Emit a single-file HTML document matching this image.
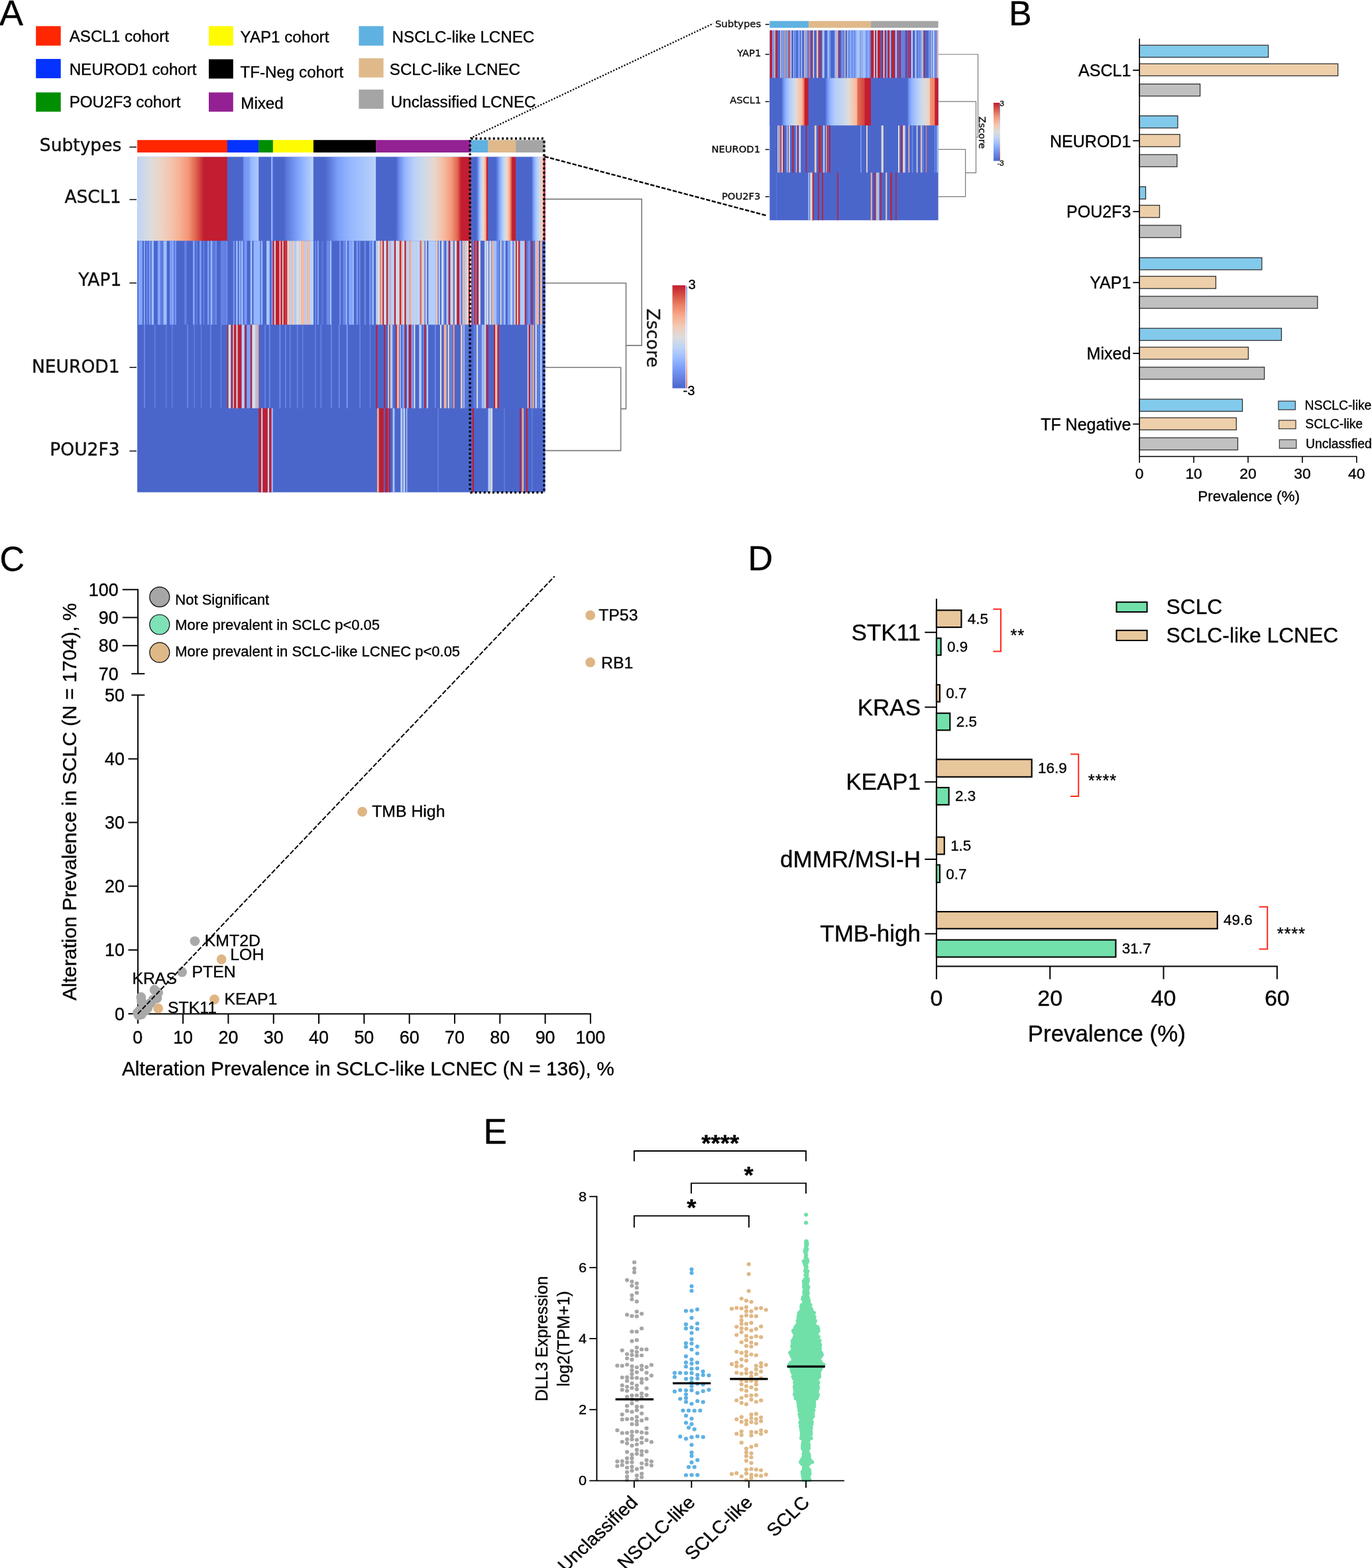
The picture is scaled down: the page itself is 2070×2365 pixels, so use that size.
<!DOCTYPE html>
<html lang="en"><head><meta charset="utf-8"><title>Figure</title>
<style>html,body{margin:0;padding:0;background:#fff}svg{display:block}text{white-space:pre;stroke:#000;stroke-width:0.35px}</style></head>
<body>
<svg width="2070" height="2365" viewBox="0 0 2070 2365">
<rect width="2070" height="2365" fill="#fff"/>
<g id="panelA">
<text x="-1" y="37.5" font-family="'Liberation Sans', sans-serif" font-size="54">A</text>
<rect x="54.2" y="39.4" width="37.5" height="29.4" fill="#ff2600"/>
<rect x="54.2" y="88.9" width="37.5" height="29.1" fill="#0433ff"/>
<rect x="54.2" y="139.4" width="37.5" height="29.1" fill="#008f00"/>
<rect x="315" y="39.4" width="36.8" height="29.4" fill="#fffb00"/>
<rect x="315" y="89.4" width="36.8" height="29.1" fill="#000000"/>
<rect x="315" y="139.4" width="36.8" height="29.1" fill="#942193"/>
<rect x="541.4" y="39.4" width="37.2" height="29.4" fill="#5fb1e1"/>
<rect x="541.4" y="87.9" width="37.2" height="28.9" fill="#e0b98b"/>
<rect x="541.4" y="135.1" width="37.2" height="28.9" fill="#a5a5a5"/>
<text x="104.7" y="63.3" font-family="'Liberation Sans', sans-serif" font-size="24.15">ASCL1 cohort</text>
<text x="104.7" y="112.5" font-family="'Liberation Sans', sans-serif" font-size="24.15">NEUROD1 cohort</text>
<text x="104.7" y="161.5" font-family="'Liberation Sans', sans-serif" font-size="24.15">POU2F3 cohort</text>
<text x="362.6" y="64" font-family="'Liberation Sans', sans-serif" font-size="24.15">YAP1 cohort</text>
<text x="362.6" y="116.8" font-family="'Liberation Sans', sans-serif" font-size="24.15">TF-Neg cohort</text>
<text x="363.3" y="163.7" font-family="'Liberation Sans', sans-serif" font-size="24.15">Mixed</text>
<text x="591.6" y="64" font-family="'Liberation Sans', sans-serif" font-size="24.15">NSCLC-like LCNEC</text>
<text x="587.8" y="112.5" font-family="'Liberation Sans', sans-serif" font-size="24.15">SCLC-like LCNEC</text>
<text x="589.8" y="161.5" font-family="'Liberation Sans', sans-serif" font-size="24.15">Unclassified LCNEC</text>
<rect x="207.1" y="211.2" width="136.1" height="18.8" fill="#ff2600"/>
<rect x="342.9" y="211.2" width="47.8" height="18.8" fill="#0433ff"/>
<rect x="390.4" y="211.2" width="21.7" height="18.8" fill="#008f00"/>
<rect x="411.8" y="211.2" width="61.4" height="18.8" fill="#fffb00"/>
<rect x="472.9" y="211.2" width="94.7" height="18.8" fill="#000000"/>
<rect x="567.3" y="211.2" width="143.2" height="18.8" fill="#942193"/>
<rect x="710.2" y="211.2" width="26.5" height="18.8" fill="#5fb1e1"/>
<rect x="736.4" y="211.2" width="42.1" height="18.8" fill="#e0b98b"/>
<rect x="778.2" y="211.2" width="44.3" height="18.8" fill="#a5a5a5"/>
<text x="183.3" y="228.3" font-family="'DejaVu Sans', sans-serif" font-size="26.5" text-anchor="end" fill="#111">Subtypes</text>
<text x="182.5" y="305.6" font-family="'DejaVu Sans', sans-serif" font-size="26.5" text-anchor="end" fill="#111">ASCL1</text>
<text x="183.3" y="431.3" font-family="'DejaVu Sans', sans-serif" font-size="26.5" text-anchor="end" fill="#111">YAP1</text>
<text x="180.5" y="561.5" font-family="'DejaVu Sans', sans-serif" font-size="26.5" text-anchor="end" fill="#111">NEUROD1</text>
<text x="180.5" y="687.3" font-family="'DejaVu Sans', sans-serif" font-size="26.5" text-anchor="end" fill="#111">POU2F3</text>
<line x1="195.4" y1="221.8" x2="206" y2="221.8" stroke="#1a1a1a" stroke-width="1.6"/>
<line x1="195.4" y1="301" x2="206" y2="301" stroke="#1a1a1a" stroke-width="1.6"/>
<line x1="195.4" y1="426.8" x2="206" y2="426.8" stroke="#1a1a1a" stroke-width="1.6"/>
<line x1="195.4" y1="554.2" x2="206" y2="554.2" stroke="#1a1a1a" stroke-width="1.6"/>
<line x1="195.4" y1="680.3" x2="206" y2="680.3" stroke="#1a1a1a" stroke-width="1.6"/>
<rect x="207.1" y="236.7" width="615.4" height="505.8" fill="#4b66cb"/>
<defs><linearGradient id="g1" gradientUnits="userSpaceOnUse" x1="207.1" y1="0" x2="342.9" y2="0"><stop offset="0" stop-color="#c0d4f5"/><stop offset="0.15" stop-color="#dddcdc"/><stop offset="0.28" stop-color="#edd2c3"/><stop offset="0.4" stop-color="#f5c0a7"/><stop offset="0.49" stop-color="#f7ac8e"/><stop offset="0.57" stop-color="#f39577"/><stop offset="0.65" stop-color="#df634e"/><stop offset="0.7" stop-color="#cf3f3d"/><stop offset="0.74" stop-color="#c21d30"/><stop offset="1" stop-color="#c21d30"/></linearGradient></defs>
<rect x="207.1" y="236.7" width="135.8" height="126.5" fill="url(#g1)"/>
<defs><linearGradient id="g2" gradientUnits="userSpaceOnUse" x1="342.9" y1="0" x2="390.4" y2="0"><stop offset="0" stop-color="#4b66cb"/><stop offset="0.49" stop-color="#4b66cb"/><stop offset="0.51" stop-color="#607ede"/><stop offset="0.53" stop-color="#7496f2"/><stop offset="0.7" stop-color="#7b9ff9"/><stop offset="0.74" stop-color="#94b6ff"/><stop offset="0.95" stop-color="#a9c6fd"/><stop offset="1" stop-color="#c0d4f5"/></linearGradient></defs>
<rect x="342.9" y="236.7" width="47.5" height="126.5" fill="url(#g2)"/>
<defs><linearGradient id="g3" gradientUnits="userSpaceOnUse" x1="390.4" y1="0" x2="411.8" y2="0"><stop offset="0" stop-color="#4b66cb"/><stop offset="0.87" stop-color="#4b66cb"/><stop offset="0.87" stop-color="#5a78d9"/><stop offset="0.88" stop-color="#6989e7"/><stop offset="0.88" stop-color="#789bf6"/><stop offset="0.88" stop-color="#8db0fe"/><stop offset="0.97" stop-color="#8db0fe"/><stop offset="0.99" stop-color="#7598f3"/><stop offset="1" stop-color="#6382e2"/></linearGradient></defs>
<rect x="390.4" y="236.7" width="21.4" height="126.5" fill="url(#g3)"/>
<defs><linearGradient id="g4" gradientUnits="userSpaceOnUse" x1="411.8" y1="0" x2="472.9" y2="0"><stop offset="0" stop-color="#4b66cb"/><stop offset="0.27" stop-color="#4b66cb"/><stop offset="0.33" stop-color="#5a77d9"/><stop offset="0.46" stop-color="#6a8be9"/><stop offset="0.63" stop-color="#82a6fb"/><stop offset="0.82" stop-color="#9ebeff"/><stop offset="0.99" stop-color="#bad0f8"/><stop offset="1" stop-color="#bad0f8"/></linearGradient></defs>
<rect x="411.8" y="236.7" width="61.1" height="126.5" fill="url(#g4)"/>
<defs><linearGradient id="g5" gradientUnits="userSpaceOnUse" x1="472.9" y1="0" x2="567.3" y2="0"><stop offset="0" stop-color="#4b66cb"/><stop offset="0.18" stop-color="#4b66cb"/><stop offset="0.27" stop-color="#5e7ddd"/><stop offset="0.33" stop-color="#6d8eeb"/><stop offset="0.39" stop-color="#7b9ff9"/><stop offset="0.6" stop-color="#97b8ff"/><stop offset="0.82" stop-color="#a9c6fd"/><stop offset="1" stop-color="#bad0f8"/></linearGradient></defs>
<rect x="472.9" y="236.7" width="94.4" height="126.5" fill="url(#g5)"/>
<defs><linearGradient id="g6" gradientUnits="userSpaceOnUse" x1="567.3" y1="0" x2="710.2" y2="0"><stop offset="0" stop-color="#4b66cb"/><stop offset="0.21" stop-color="#4b66cb"/><stop offset="0.23" stop-color="#5d7bdc"/><stop offset="0.25" stop-color="#6f90ed"/><stop offset="0.28" stop-color="#81a4fb"/><stop offset="0.31" stop-color="#97b8ff"/><stop offset="0.4" stop-color="#bad0f8"/><stop offset="0.51" stop-color="#cfdaea"/><stop offset="0.61" stop-color="#e7d7ce"/><stop offset="0.7" stop-color="#f5c0a7"/><stop offset="0.79" stop-color="#f59d7e"/><stop offset="0.82" stop-color="#ee8468"/><stop offset="0.86" stop-color="#e16751"/><stop offset="0.88" stop-color="#d0423e"/><stop offset="0.9" stop-color="#c21d30"/><stop offset="1" stop-color="#c21d30"/></linearGradient></defs>
<rect x="567.3" y="236.7" width="142.9" height="126.5" fill="url(#g6)"/>
<defs><linearGradient id="g7" gradientUnits="userSpaceOnUse" x1="710.2" y1="0" x2="736.4" y2="0"><stop offset="0" stop-color="#4b66cb"/><stop offset="0.34" stop-color="#4b66cb"/><stop offset="0.37" stop-color="#5a78d9"/><stop offset="0.41" stop-color="#6989e7"/><stop offset="0.45" stop-color="#789bf6"/><stop offset="0.49" stop-color="#8db0fe"/><stop offset="0.54" stop-color="#a5c3fe"/><stop offset="0.59" stop-color="#bbd1f8"/><stop offset="0.64" stop-color="#cfdaea"/><stop offset="0.72" stop-color="#e5d8d1"/><stop offset="0.79" stop-color="#f4c6af"/><stop offset="0.83" stop-color="#f7b396"/><stop offset="0.86" stop-color="#f59d7e"/><stop offset="0.89" stop-color="#ee8468"/><stop offset="0.9" stop-color="#e0654f"/><stop offset="0.92" stop-color="#cf403d"/><stop offset="0.93" stop-color="#c21d30"/><stop offset="1" stop-color="#c21d30"/></linearGradient></defs>
<rect x="710.2" y="236.7" width="26.2" height="126.5" fill="url(#g7)"/>
<defs><linearGradient id="g8" gradientUnits="userSpaceOnUse" x1="736.4" y1="0" x2="778.2" y2="0"><stop offset="0" stop-color="#4b66cb"/><stop offset="0.28" stop-color="#4b66cb"/><stop offset="0.32" stop-color="#5b79da"/><stop offset="0.36" stop-color="#6b8ce9"/><stop offset="0.4" stop-color="#7b9ff9"/><stop offset="0.46" stop-color="#96b7ff"/><stop offset="0.52" stop-color="#afcafc"/><stop offset="0.58" stop-color="#c7d7f0"/><stop offset="0.64" stop-color="#dddcdc"/><stop offset="0.69" stop-color="#edd2c3"/><stop offset="0.74" stop-color="#f5c0a7"/><stop offset="0.77" stop-color="#f7a98b"/><stop offset="0.8" stop-color="#f18d6f"/><stop offset="0.83" stop-color="#e36c55"/><stop offset="0.85" stop-color="#d1453f"/><stop offset="0.88" stop-color="#c21d30"/><stop offset="1" stop-color="#c21d30"/></linearGradient></defs>
<rect x="736.4" y="236.7" width="41.8" height="126.5" fill="url(#g8)"/>
<defs><linearGradient id="g9" gradientUnits="userSpaceOnUse" x1="778.2" y1="0" x2="822.5" y2="0"><stop offset="0" stop-color="#4b66cb"/><stop offset="0.54" stop-color="#4b66cb"/><stop offset="0.56" stop-color="#5b79da"/><stop offset="0.58" stop-color="#6b8ce9"/><stop offset="0.6" stop-color="#7b9ff9"/><stop offset="0.65" stop-color="#92b4fe"/><stop offset="0.7" stop-color="#a9c6fd"/><stop offset="0.75" stop-color="#bcd2f7"/><stop offset="0.81" stop-color="#cfdaea"/><stop offset="0.9" stop-color="#e9d5cb"/><stop offset="0.91" stop-color="#f3c8b2"/><stop offset="0.92" stop-color="#f7b599"/><stop offset="0.93" stop-color="#f59f80"/><stop offset="0.94" stop-color="#ee8468"/><stop offset="0.95" stop-color="#e0654f"/><stop offset="0.96" stop-color="#cf403d"/><stop offset="0.97" stop-color="#c21d30"/><stop offset="1" stop-color="#c21d30"/></linearGradient></defs>
<rect x="778.2" y="236.7" width="44.3" height="126.5" fill="url(#g9)"/>
<path d="M411.41 363.2h21.88v126.5h-21.88zM689.14 363.2h4.14v126.5h-4.14zM719.14 363.2h2.97v126.5h-2.97zM610.23 363.2h2.42v126.5h-2.42zM582.89 363.2h2.34v126.5h-2.34zM594.77 363.2h2.34v126.5h-2.34zM677.11 363.2h2.34v126.5h-2.34zM791.64 363.2h2.34v126.5h-2.34zM782.03 363.2h2.27v126.5h-2.27zM602.81 363.2h2.19v126.5h-2.19zM706.88 363.2h2.19v126.5h-2.19zM801.56 363.2h2.19v126.5h-2.19zM577.03 363.2h2.11v126.5h-2.11zM711.25 363.2h1.64v126.5h-1.64z" fill="#c21d30"/>
<path d="M646.17 363.2h11.25v126.5h-11.25zM443.98 363.2h2.89v126.5h-2.89zM788.75 363.2h2.89v126.5h-2.89zM458.98 363.2h2.11v126.5h-2.11z" fill="#b3cdfb"/>
<path d="M382.5 363.2h9.92v126.5h-9.92zM561.25 363.2h2.81v126.5h-2.81zM521.41 363.2h2.58v126.5h-2.58zM260 363.2h1.72v126.5h-1.72z" fill="#94b6ff"/>
<path d="M627.19 363.2h6.48v126.5h-6.48zM467.11 363.2h5.86v126.5h-5.86zM621.02 363.2h3.83v126.5h-3.83zM769.77 363.2h3.44v126.5h-3.44zM730.78 363.2h2.27v126.5h-2.27zM696.56 363.2h2.19v126.5h-2.19zM567.19 363.2h2.11v126.5h-2.11zM636.02 363.2h2.11v126.5h-2.11zM662.11 363.2h1.88v126.5h-1.88zM697.58 363.2h1.41v126.5h-1.41z" fill="#c0d4f5"/>
<path d="M208.98 363.2h5.86v126.5h-5.86zM526.09 363.2h5.31v126.5h-5.31zM237.89 363.2h4.3v126.5h-4.3zM291.02 363.2h2.73v126.5h-2.73z" fill="#82a6fb"/>
<path d="M724.92 363.2h5.86v126.5h-5.86zM817.73 363.2h4.77v126.5h-4.77zM762.73 363.2h3.12v126.5h-3.12zM670.94 363.2h2.58v126.5h-2.58zM695.23 363.2h2.34v126.5h-2.34zM644.14 363.2h2.03v126.5h-2.03zM663.98 363.2h2.03v126.5h-2.03zM813.05 363.2h2.03v126.5h-2.03zM799.77 363.2h1.8v126.5h-1.8zM736.95 363.2h1.25v126.5h-1.25z" fill="#4b66cb"/>
<path d="M589.3 363.2h5.47v126.5h-5.47z" fill="#bad0f8"/>
<path d="M246.48 363.2h5.08v126.5h-5.08zM228.75 363.2h3.28v126.5h-3.28zM759.92 363.2h2.81v126.5h-2.81zM364.06 363.2h2.58v126.5h-2.58zM497.66 363.2h2.5v126.5h-2.5zM531.41 363.2h2.5v126.5h-2.5zM744.84 363.2h2.27v126.5h-2.27zM394.22 363.2h1.88v126.5h-1.88zM784.3 363.2h1.88v126.5h-1.88z" fill="#9ebeff"/>
<path d="M492.5 363.2h4.92v126.5h-4.92z" fill="#6a8be9"/>
<path d="M402.03 363.2h4.84v126.5h-4.84zM377.81 363.2h2.5v126.5h-2.5zM356.25 363.2h2.19v126.5h-2.19zM733.05 363.2h1.88v126.5h-1.88z" fill="#a9c6fd"/>
<path d="M446.88 363.2h4.3v126.5h-4.3zM734.92 363.2h2.03v126.5h-2.03z" fill="#d7dce3"/>
<path d="M454.69 363.2h4.3v126.5h-4.3z" fill="#f7ba9f"/>
<path d="M368.44 363.2h4.06v126.5h-4.06zM263.91 363.2h2.11v126.5h-2.11z" fill="#7799f4"/>
<path d="M433.28 363.2h4.06v126.5h-4.06z" fill="#f2cbb7"/>
<path d="M569.3 363.2h4.06v126.5h-4.06zM722.11 363.2h2.81v126.5h-2.81zM709.06 363.2h2.19v126.5h-2.19zM413.75 363.2h2.11v126.5h-2.11zM642.11 363.2h2.03v126.5h-2.03zM421.56 363.2h1.72v126.5h-1.72zM425.86 363.2h1.72v126.5h-1.72zM463.2 363.2h1.56v126.5h-1.56z" fill="#dddcdc"/>
<path d="M748.91 363.2h3.98v126.5h-3.98zM773.2 363.2h2.5v126.5h-2.5zM324.61 363.2h2.34v126.5h-2.34zM341.09 363.2h2.11v126.5h-2.11zM541.72 363.2h1.8v126.5h-1.8zM669.14 363.2h1.8v126.5h-1.8zM220.94 363.2h1.72v126.5h-1.72zM475 363.2h1.72v126.5h-1.72zM675.7 363.2h1.41v126.5h-1.41z" fill="#6f90ed"/>
<path d="M484.53 363.2h3.91v126.5h-3.91zM803.75 363.2h3.83v126.5h-3.83zM683.67 363.2h2.27v126.5h-2.27zM207.11 363.2h1.88v126.5h-1.88zM752.89 363.2h1.72v126.5h-1.72z" fill="#5774d6"/>
<path d="M517.34 363.2h3.91v126.5h-3.91zM756.56 363.2h3.36v126.5h-3.36zM333.2 363.2h2.73v126.5h-2.73zM549.53 363.2h2.58v126.5h-2.58zM640.23 363.2h1.88v126.5h-1.88zM306.64 363.2h1.56v126.5h-1.56z" fill="#6888e6"/>
<path d="M597.11 363.2h3.91v126.5h-3.91zM666.02 363.2h3.12v126.5h-3.12zM575.23 363.2h1.8v126.5h-1.8z" fill="#cfdaea"/>
<path d="M765.86 363.2h3.91v126.5h-3.91zM256.09 363.2h3.67v126.5h-3.67zM301.17 363.2h2.73v126.5h-2.73zM312.89 363.2h2.73v126.5h-2.73zM224.61 363.2h2.34v126.5h-2.34zM478.67 363.2h2.34v126.5h-2.34zM336.72 363.2h2.19v126.5h-2.19zM409.38 363.2h2.03v126.5h-2.03zM740.86 363.2h1.56v126.5h-1.56z" fill="#7b9ff9"/>
<path d="M579.14 363.2h3.75v126.5h-3.75zM775.7 363.2h2.19v126.5h-2.19zM807.58 363.2h2.03v126.5h-2.03z" fill="#d5dbe5"/>
<path d="M336.33 363.2h3.67v126.5h-3.67zM278.12 363.2h3.52v126.5h-3.52zM712.89 363.2h2.19v126.5h-2.19zM295.7 363.2h1.95v126.5h-1.95zM717.19 363.2h1.95v126.5h-1.95zM262.11 363.2h1.56v126.5h-1.56zM335 363.2h1.56v126.5h-1.56zM695 363.2h1.56v126.5h-1.56zM392.66 363.2h1.33v126.5h-1.33zM227.34 363.2h1.17v126.5h-1.17zM362.97 363.2h0.94v126.5h-0.94z" fill="#6382e2"/>
<path d="M703.2 363.2h3.67v126.5h-3.67zM738.2 363.2h2.66v126.5h-2.66zM754.61 363.2h1.95v126.5h-1.95z" fill="#e2dad5"/>
<path d="M242.58 363.2h3.52v126.5h-3.52zM339.3 363.2h1.56v126.5h-1.56zM559.69 363.2h1.41v126.5h-1.41z" fill="#5e7ddd"/>
<path d="M320.7 363.2h3.52v126.5h-3.52zM793.98 363.2h2.66v126.5h-2.66z" fill="#5c7adb"/>
<path d="M451.17 363.2h3.52v126.5h-3.52z" fill="#e4d9d2"/>
<path d="M809.61 363.2h3.44v126.5h-3.44zM618.67 363.2h2.34v126.5h-2.34zM587.19 363.2h2.11v126.5h-2.11zM698.98 363.2h1.02v126.5h-1.02z" fill="#f7b396"/>
<path d="M440.62 363.2h3.36v126.5h-3.36zM657.42 363.2h2.73v126.5h-2.73zM461.09 363.2h2.11v126.5h-2.11z" fill="#f4c6af"/>
<path d="M606.88 363.2h3.36v126.5h-3.36zM685.94 363.2h3.2v126.5h-3.2zM679.45 363.2h2.42v126.5h-2.42zM612.66 363.2h2.03v126.5h-2.03z" fill="#d2dbe8"/>
<path d="M437.34 363.2h3.28v126.5h-3.28zM786.17 363.2h2.58v126.5h-2.58zM673.52 363.2h2.19v126.5h-2.19zM701.17 363.2h2.03v126.5h-2.03z" fill="#c6d6f1"/>
<path d="M796.64 363.2h3.12v126.5h-3.12zM537.5 363.2h2.66v126.5h-2.66zM557.03 363.2h2.5v126.5h-2.5zM351.8 363.2h2.34v126.5h-2.34zM512.03 363.2h2.19v126.5h-2.19zM660.16 363.2h1.95v126.5h-1.95z" fill="#7496f2"/>
<path d="M317.58 363.2h2.73v126.5h-2.73zM360.62 363.2h2.11v126.5h-2.11z" fill="#97b8ff"/>
<path d="M815.08 363.2h2.66v126.5h-2.66zM742.42 363.2h2.42v126.5h-2.42zM464.77 363.2h2.34v126.5h-2.34z" fill="#f5c0a7"/>
<path d="M698.75 363.2h2.42v126.5h-2.42z" fill="#f7ac8e"/>
<path d="M624.84 363.2h2.34v126.5h-2.34z" fill="#cad8ef"/>
<path d="M633.67 363.2h2.34v126.5h-2.34z" fill="#e36c55"/>
<path d="M614.69 363.2h2.11v126.5h-2.11zM638.12 363.2h2.11v126.5h-2.11zM779.92 363.2h2.11v126.5h-2.11zM681.88 363.2h1.8v126.5h-1.8z" fill="#efcfbf"/>
<path d="M715.08 363.2h2.11v126.5h-2.11z" fill="#c82d36"/>
<path d="M777.89 363.2h2.03v126.5h-2.03z" fill="#ca3238"/>
<path d="M429.92 363.2h1.95v126.5h-1.95z" fill="#d0423e"/>
<path d="M585.23 363.2h1.95v126.5h-1.95zM693.28 363.2h1.95v126.5h-1.95zM616.8 363.2h1.88v126.5h-1.88zM747.11 363.2h1.8v126.5h-1.8z" fill="#afcafc"/>
<path d="M604.92 363.2h1.95v126.5h-1.95z" fill="#f6a586"/>
<path d="M573.36 363.2h1.88v126.5h-1.88z" fill="#f18d6f"/>
<path d="M601.02 363.2h1.8v126.5h-1.8z" fill="#e9d5cb"/>
<path d="M217.03 363.2h1.72v126.5h-1.72z" fill="#8db0fe"/>
<path d="M701.25 489.7h5.47v126.1h-5.47z" fill="#5a77d9"/>
<path d="M358.93 489.7h5.36v126.1h-5.36zM617.03 489.7h3.28v126.1h-3.28zM353.21 489.7h3.04v126.1h-3.04zM734.45 489.7h2.34v126.1h-2.34zM750.47 489.7h2.19v126.1h-2.19zM369.64 489.7h2.14v126.1h-2.14zM640.31 489.7h2.11v126.1h-2.11zM797.97 489.7h2.11v126.1h-2.11zM567.19 489.7h2.03v126.1h-2.03zM579.14 489.7h1.95v126.1h-1.95zM745 489.7h1.95v126.1h-1.95zM378.21 489.7h1.79v126.1h-1.79zM349.11 489.7h1.79v126.1h-1.79zM610.78 489.7h1.72v126.1h-1.72zM597.11 489.7h1.56v126.1h-1.56zM342.86 489.7h1.43v126.1h-1.43z" fill="#c21d30"/>
<path d="M372.32 489.7h5.36v126.1h-5.36zM606.88 489.7h3.12v126.1h-3.12z" fill="#7b9ff9"/>
<path d="M380.36 489.7h5.36v126.1h-5.36zM344.64 489.7h3.57v126.1h-3.57zM807.5 489.7h2.34v126.1h-2.34zM589.06 489.7h2.19v126.1h-2.19zM663.91 489.7h2.19v126.1h-2.19zM675.62 489.7h2.19v126.1h-2.19zM795.78 489.7h1.56v126.1h-1.56z" fill="#dddcdc"/>
<path d="M721.56 489.7h4.69v126.1h-4.69zM810.23 489.7h4.3v126.1h-4.3zM714.53 489.7h3.12v126.1h-3.12z" fill="#5e7ddd"/>
<path d="M364.64 489.7h4.11v126.1h-4.11zM643.59 489.7h2.34v126.1h-2.34zM614.3 489.7h1.8v126.1h-1.8z" fill="#bad0f8"/>
<path d="M669.77 489.7h3.91v126.1h-3.91zM598.83 489.7h3.36v126.1h-3.36zM803.2 489.7h2.34v126.1h-2.34zM585 489.7h2.19v126.1h-2.19z" fill="#f7b396"/>
<path d="M726.64 489.7h3.91v126.1h-3.91zM698.91 489.7h1.95v126.1h-1.95zM620.94 489.7h1.56v126.1h-1.56zM591.64 489.7h1.17v126.1h-1.17z" fill="#9ebeff"/>
<path d="M632.27 489.7h3.67v126.1h-3.67z" fill="#b3cdfb"/>
<path d="M747.11 489.7h3.2v126.1h-3.2z" fill="#f5c0a7"/>
<path d="M679.14 489.7h2.73v126.1h-2.73z" fill="#6888e6"/>
<path d="M814.92 489.7h2.73v126.1h-2.73zM603.36 489.7h1.56v126.1h-1.56z" fill="#a9c6fd"/>
<path d="M387.86 489.7h2.5v126.1h-2.5z" fill="#f6a586"/>
<path d="M624.06 489.7h2.34v126.1h-2.34z" fill="#cfdaea"/>
<path d="M637.34 489.7h2.34v126.1h-2.34zM655.7 489.7h2.34v126.1h-2.34z" fill="#6382e2"/>
<path d="M683.44 489.7h2.34v126.1h-2.34z" fill="#f4987a"/>
<path d="M695.16 489.7h2.34v126.1h-2.34zM356.43 489.7h2.14v126.1h-2.14zM695.94 489.7h1.8v126.1h-1.8z" fill="#f4c6af"/>
<path d="M718.83 489.7h2.34v126.1h-2.34z" fill="#d5dbe5"/>
<path d="M447.7 489.7h2.26v126.1h-2.26z" fill="#5f7dde"/>
<path d="M385.71 489.7h2.14v126.1h-2.14z" fill="#afcafc"/>
<path d="M730.78 489.7h2.11v126.1h-2.11z" fill="#e2dad5"/>
<path d="M522.62 489.7h2.09v126.1h-2.09z" fill="#7698f3"/>
<path d="M398.94 489.7h2v126.1h-2z" fill="#6281e0"/>
<path d="M483.27 489.7h1.93v126.1h-1.93z" fill="#6281e1"/>
<path d="M217.05 489.7h1.92v126.1h-1.92zM542.4 489.7h1.53v126.1h-1.53zM303.06 489.7h1.03v126.1h-1.03z" fill="#6787e6"/>
<path d="M510.73 489.7h1.89v126.1h-1.89z" fill="#6a8ae8"/>
<path d="M421.47 489.7h1.84v126.1h-1.84z" fill="#6e8fec"/>
<path d="M455.75 489.7h1.76v126.1h-1.76z" fill="#617fdf"/>
<path d="M258.91 489.7h1.69v126.1h-1.69z" fill="#5f7ede"/>
<path d="M282.32 489.7h1.65v126.1h-1.65z" fill="#6a8be8"/>
<path d="M800.47 489.7h1.56v126.1h-1.56z" fill="#c0d4f5"/>
<path d="M292.49 489.7h1.53v126.1h-1.53z" fill="#607ede"/>
<path d="M317.14 489.7h1.52v126.1h-1.52z" fill="#6b8be9"/>
<path d="M332.66 489.7h1.46v126.1h-1.46z" fill="#6483e2"/>
<path d="M351.43 489.7h1.43v126.1h-1.43z" fill="#f2cbb7"/>
<path d="M406.08 489.7h1.41v126.1h-1.41zM499.26 489.7h1.26v126.1h-1.26z" fill="#7294f0"/>
<path d="M430.2 489.7h1.24v126.1h-1.24z" fill="#7496f2"/>
<path d="M233.1 489.7h1.18v126.1h-1.18z" fill="#6888e7"/>
<path d="M557.91 489.7h1.17v126.1h-1.17z" fill="#6483e3"/>
<path d="M475.35 489.7h1.17v126.1h-1.17z" fill="#6989e7"/>
<path d="M437.21 489.7h1.11v126.1h-1.11z" fill="#6f90ed"/>
<path d="M250.36 489.7h1.09v126.1h-1.09z" fill="#6484e3"/>
<path d="M695 489.7h0.78v126.1h-0.78z" fill="#e9d5cb"/>
<path d="M396.43 615.8h7.14v126.7h-7.14zM571.61 615.8h7.14v126.7h-7.14zM581.07 615.8h3.93v126.7h-3.93zM390.36 615.8h3.57v126.7h-3.57zM406.25 615.8h3.21v126.7h-3.21zM712.68 615.8h2.32v126.7h-2.32zM586.79 615.8h2.14v126.7h-2.14zM793.57 615.8h2.14v126.7h-2.14zM784.11 615.8h1.79v126.7h-1.79z" fill="#c21d30"/>
<path d="M736.43 615.8h3.93v126.7h-3.93zM604.29 615.8h3.04v126.7h-3.04z" fill="#b3cdfb"/>
<path d="M592.5 615.8h2.86v126.7h-2.86z" fill="#a9c6fd"/>
<path d="M568.93 615.8h2.68v126.7h-2.68z" fill="#f7ac8e"/>
<path d="M740.36 615.8h2.68v126.7h-2.68zM403.93 615.8h1.96v126.7h-1.96z" fill="#e2dad5"/>
<path d="M608.57 615.8h2.32v126.7h-2.32z" fill="#d7dce3"/>
<path d="M787.68 615.8h2.32v126.7h-2.32z" fill="#f7b396"/>
<path d="M409.64 615.8h2.14v126.7h-2.14zM612.68 615.8h1.79v126.7h-1.79z" fill="#9ebeff"/>
<path d="M394.29 615.8h1.79v126.7h-1.79z" fill="#dddcdc"/>
<path d="M802.5 615.8h1.07v126.7h-1.07zM760.54 615.8h1.07v126.7h-1.07z" fill="#6888e6"/>
<path d="M660.54 615.8h1.07v126.7h-1.07z" fill="#6f90ed"/>
<path d="M822.5 300.4H968.2V521.1H944.5 M822.5 427H944.5V616.6H936.6 M822.5 554.2H936.6V679.6H822.5" fill="none" stroke="#7a7a7a" stroke-width="1.6"/>
<defs><linearGradient id="cb1" x1="0" y1="1" x2="0" y2="0"><stop offset="0" stop-color="#4b66cb"/><stop offset="0.1" stop-color="#6382e2"/><stop offset="0.2" stop-color="#7b9ff9"/><stop offset="0.3" stop-color="#9ebeff"/><stop offset="0.4" stop-color="#c0d4f5"/><stop offset="0.5" stop-color="#dddcdc"/><stop offset="0.6" stop-color="#f2cbb7"/><stop offset="0.7" stop-color="#f7ac8e"/><stop offset="0.8" stop-color="#ee8468"/><stop offset="0.9" stop-color="#d65244"/><stop offset="1" stop-color="#c21d30"/></linearGradient><linearGradient id="cb1r" x1="0" y1="0" x2="0" y2="1"><stop offset="0" stop-color="#4b66cb"/><stop offset="0.1" stop-color="#6382e2"/><stop offset="0.2" stop-color="#7b9ff9"/><stop offset="0.3" stop-color="#9ebeff"/><stop offset="0.4" stop-color="#c0d4f5"/><stop offset="0.5" stop-color="#dddcdc"/><stop offset="0.6" stop-color="#f2cbb7"/><stop offset="0.7" stop-color="#f7ac8e"/><stop offset="0.8" stop-color="#ee8468"/><stop offset="0.9" stop-color="#d65244"/><stop offset="1" stop-color="#c21d30"/></linearGradient></defs>
<rect x="1014.5" y="430.3" width="19.8" height="155.3" fill="url(#cb1)"/>
<rect x="1035.4" y="432" width="1.2" height="153.6" fill="url(#cb1r)"/>
<text x="1038.5" y="436" font-family="'Liberation Sans', sans-serif" font-size="20">3</text>
<text x="1030.6" y="596.4" font-family="'Liberation Sans', sans-serif" font-size="20">-3</text>
<text transform="translate(975.6 465.2) rotate(90)" font-family="'DejaVu Sans', sans-serif" font-size="26.4" fill="#1a1a1a">Zscore</text>
<rect x="709.1" y="209.1" width="111.8" height="533.6" rx="1.5" fill="none" stroke="#000" stroke-width="3.5" stroke-dasharray="2.9 3.74"/>
<line x1="709.5" y1="208.5" x2="1076" y2="35.5" stroke="#000" stroke-width="2.3" stroke-dasharray="2.1 2.4"/>
<line x1="821.5" y1="236" x2="1156" y2="325" stroke="#000" stroke-width="2.4" stroke-dasharray="6.3 2.4"/>
</g>
<g id="panelA_inset">
<rect x="1161.25" y="31.7" width="58.85" height="10.2" fill="#5fb1e1"/>
<rect x="1219.8" y="31.7" width="94.6" height="10.2" fill="#e0b98b"/>
<rect x="1314.1" y="31.7" width="101.5" height="10.2" fill="#a5a5a5"/>
<text x="1148.3" y="41.2" font-family="'DejaVu Sans', sans-serif" font-size="14.9" text-anchor="end" fill="#111">Subtypes</text>
<text x="1148.3" y="85.2" font-family="'DejaVu Sans', sans-serif" font-size="14.7" text-anchor="end" fill="#111">YAP1</text>
<text x="1148.3" y="156.4" font-family="'DejaVu Sans', sans-serif" font-size="14.7" text-anchor="end" fill="#111">ASCL1</text>
<text x="1147" y="229.6" font-family="'DejaVu Sans', sans-serif" font-size="14.7" text-anchor="end" fill="#111">NEUROD1</text>
<text x="1147.3" y="300.8" font-family="'DejaVu Sans', sans-serif" font-size="14.7" text-anchor="end" fill="#111">POU2F3</text>
<line x1="1154.6" y1="36.8" x2="1160.6" y2="36.8" stroke="#111" stroke-width="1.5"/>
<line x1="1154.6" y1="82" x2="1160.6" y2="82" stroke="#111" stroke-width="1.5"/>
<line x1="1154.6" y1="153.3" x2="1160.6" y2="153.3" stroke="#111" stroke-width="1.5"/>
<line x1="1154.6" y1="225.5" x2="1160.6" y2="225.5" stroke="#111" stroke-width="1.5"/>
<line x1="1154.6" y1="296.6" x2="1160.6" y2="296.6" stroke="#111" stroke-width="1.5"/>
<rect x="1161.25" y="45.8" width="254.35" height="286.4" fill="#4b66cb"/>
<path d="M1279.69 45.8h10.94v71.9h-10.94z" fill="#6d8eeb"/>
<path d="M1290.62 45.8h7.81v71.9h-7.81z" fill="#97b8ff"/>
<path d="M1306.25 45.8h7.03v71.9h-7.03z" fill="#7496f2"/>
<path d="M1359.38 45.8h6.25v71.9h-6.25z" fill="#6382e2"/>
<path d="M1300.78 45.8h5.47v71.9h-5.47zM1350.78 45.8h2.34v71.9h-2.34zM1196.88 45.8h1.56v71.9h-1.56zM1282.81 45.8h1.25v71.9h-1.25zM1309.38 45.8h1.25v71.9h-1.25zM1337.5 45.8h1.25v71.9h-1.25z" fill="#9ebeff"/>
<path d="M1268.75 45.8h4.69v71.9h-4.69z" fill="#6888e6"/>
<path d="M1345.31 45.8h4.69v71.9h-4.69zM1314.06 45.8h3.91v71.9h-3.91zM1324.22 45.8h3.91v71.9h-3.91zM1161.72 45.8h3.12v71.9h-3.12zM1170.31 45.8h2.34v71.9h-2.34zM1339.53 45.8h2.34v71.9h-2.34zM1330.16 45.8h1.88v71.9h-1.88zM1224.22 45.8h1.56v71.9h-1.56zM1266.41 45.8h1.56v71.9h-1.56zM1320.31 45.8h1.56v71.9h-1.56zM1335.16 45.8h1.56v71.9h-1.56zM1357.03 45.8h1.56v71.9h-1.56zM1237.5 45.8h1.25v71.9h-1.25zM1366.41 45.8h1.25v71.9h-1.25zM1393.75 45.8h1.25v71.9h-1.25zM1235.16 45.8h1.09v71.9h-1.09z" fill="#c21d30"/>
<path d="M1370 45.8h4.22v71.9h-4.22z" fill="#9a3a80"/>
<path d="M1384.38 45.8h3.91v71.9h-3.91zM1400.78 45.8h3.12v71.9h-3.12zM1410.94 45.8h2.34v71.9h-2.34z" fill="#6f90ed"/>
<path d="M1203.91 45.8h3.12v71.9h-3.12zM1251.25 45.8h1.88v71.9h-1.88zM1199.69 45.8h1.25v71.9h-1.25zM1218.12 45.8h1.25v71.9h-1.25z" fill="#7b9ff9"/>
<path d="M1240.62 45.8h3.12v71.9h-3.12zM1407.03 45.8h3.12v71.9h-3.12zM1248.44 45.8h2.34v71.9h-2.34zM1259.38 45.8h2.34v71.9h-2.34zM1380.47 45.8h2.34v71.9h-2.34zM1389.06 45.8h1.56v71.9h-1.56z" fill="#a9c6fd"/>
<path d="M1232.03 45.8h2.34v71.9h-2.34zM1413.75 45.8h1.88v71.9h-1.88zM1167.97 45.8h1.56v71.9h-1.56zM1183.59 45.8h1.56v71.9h-1.56zM1213.28 45.8h1.56v71.9h-1.56z" fill="#f4c6af"/>
<path d="M1189.38 45.8h2.03v71.9h-2.03z" fill="#dc5d4a"/>
<path d="M1353.91 45.8h2.03v71.9h-2.03z" fill="#a83a6a"/>
<path d="M1262.19 45.8h1.88v71.9h-1.88z" fill="#f2cbb7"/>
<path d="M1375 45.8h1.88v71.9h-1.88zM1177.34 45.8h1.56v71.9h-1.56zM1192.5 45.8h1.56v71.9h-1.56zM1226.56 45.8h1.56v71.9h-1.56zM1318.44 45.8h1.56v71.9h-1.56zM1322.34 45.8h1.56v71.9h-1.56zM1332.81 45.8h1.56v71.9h-1.56zM1274.22 45.8h1.25v71.9h-1.25zM1278.12 45.8h1.25v71.9h-1.25zM1342.5 45.8h1.25v71.9h-1.25zM1404.69 45.8h1.25v71.9h-1.25zM1299.22 45.8h1.09v71.9h-1.09z" fill="#dddcdc"/>
<path d="M1180.47 45.8h1.56v71.9h-1.56zM1186.72 45.8h1.56v71.9h-1.56zM1208.59 45.8h1.56v71.9h-1.56zM1215.62 45.8h1.56v71.9h-1.56zM1165.62 45.8h1.25v71.9h-1.25z" fill="#afcafc"/>
<path d="M1220.62 45.8h1.56v71.9h-1.56z" fill="#ee8468"/>
<path d="M1293.75 45.8h1.56v71.9h-1.56z" fill="#c0d4f5"/>
<path d="M1391.41 45.8h1.56v71.9h-1.56z" fill="#e9d5cb"/>
<path d="M1286.88 45.8h1.25v71.9h-1.25z" fill="#8db0fe"/>
<defs><linearGradient id="g10" gradientUnits="userSpaceOnUse" x1="1161.25" y1="0" x2="1219.84" y2="0"><stop offset="0" stop-color="#4b66cb"/><stop offset="0.3" stop-color="#4b66cb"/><stop offset="0.33" stop-color="#5d7bdc"/><stop offset="0.35" stop-color="#6f90ed"/><stop offset="0.39" stop-color="#81a4fb"/><stop offset="0.43" stop-color="#97b8ff"/><stop offset="0.53" stop-color="#b6cefa"/><stop offset="0.62" stop-color="#cfdaea"/><stop offset="0.69" stop-color="#e2dad5"/><stop offset="0.74" stop-color="#f2cbb7"/><stop offset="0.83" stop-color="#f7ba9f"/><stop offset="0.85" stop-color="#f6a283"/><stop offset="0.87" stop-color="#ee8468"/><stop offset="0.89" stop-color="#e0654f"/><stop offset="0.9" stop-color="#cf403d"/><stop offset="0.91" stop-color="#c21d30"/><stop offset="1" stop-color="#c21d30"/></linearGradient></defs>
<rect x="1161.25" y="117.7" width="58.59" height="71.5" fill="url(#g10)"/>
<defs><linearGradient id="g11" gradientUnits="userSpaceOnUse" x1="1219.84" y1="0" x2="1314.06" y2="0"><stop offset="0" stop-color="#4b66cb"/><stop offset="0.27" stop-color="#4b66cb"/><stop offset="0.28" stop-color="#5d7bdc"/><stop offset="0.3" stop-color="#6f90ed"/><stop offset="0.32" stop-color="#7ea1fa"/><stop offset="0.35" stop-color="#94b6ff"/><stop offset="0.42" stop-color="#b3cdfb"/><stop offset="0.55" stop-color="#c6d6f1"/><stop offset="0.64" stop-color="#dddcdc"/><stop offset="0.7" stop-color="#f2cbb7"/><stop offset="0.77" stop-color="#f7ba9f"/><stop offset="0.78" stop-color="#f6a385"/><stop offset="0.78" stop-color="#f08a6c"/><stop offset="0.79" stop-color="#e36c55"/><stop offset="0.89" stop-color="#d24740"/><stop offset="0.91" stop-color="#c21d30"/><stop offset="1" stop-color="#c21d30"/></linearGradient></defs>
<rect x="1219.84" y="117.7" width="94.22" height="71.5" fill="url(#g11)"/>
<defs><linearGradient id="g12" gradientUnits="userSpaceOnUse" x1="1314.06" y1="0" x2="1415.62" y2="0"><stop offset="0" stop-color="#4b66cb"/><stop offset="0.54" stop-color="#4b66cb"/><stop offset="0.55" stop-color="#5d7bdc"/><stop offset="0.56" stop-color="#6f90ed"/><stop offset="0.58" stop-color="#7ea1fa"/><stop offset="0.61" stop-color="#94b6ff"/><stop offset="0.69" stop-color="#b3cdfb"/><stop offset="0.76" stop-color="#cfdaea"/><stop offset="0.82" stop-color="#e2dad5"/><stop offset="0.87" stop-color="#efcfbf"/><stop offset="0.88" stop-color="#f5c0a7"/><stop offset="0.88" stop-color="#f7ac8e"/><stop offset="0.88" stop-color="#f39577"/><stop offset="0.94" stop-color="#ee8468"/><stop offset="0.94" stop-color="#e0654f"/><stop offset="0.95" stop-color="#cf403d"/><stop offset="0.95" stop-color="#c21d30"/><stop offset="1" stop-color="#c21d30"/></linearGradient></defs>
<rect x="1314.06" y="117.7" width="101.56" height="71.5" fill="url(#g12)"/>
<path d="M1329.69 189.2h3.12v71.1h-3.12z" fill="#e2dad5"/>
<path d="M1228.91 189.2h2.81v71.1h-2.81zM1190 189.2h1.88v71.1h-1.88zM1389.06 189.2h1.88v71.1h-1.88z" fill="#f2cbb7"/>
<path d="M1205.47 189.2h2.66v71.1h-2.66zM1242.19 189.2h1.88v71.1h-1.88z" fill="#cfdaea"/>
<path d="M1362.19 189.2h2.66v71.1h-2.66zM1355 189.2h2.03v71.1h-2.03zM1173.12 189.2h1.56v71.1h-1.56zM1382.81 189.2h1.56v71.1h-1.56z" fill="#dddcdc"/>
<path d="M1235.16 189.2h2.34v71.1h-2.34zM1195.31 189.2h1.88v71.1h-1.88zM1250.94 189.2h1.88v71.1h-1.88zM1359.84 189.2h1.88v71.1h-1.88zM1202.81 189.2h1.56v71.1h-1.56zM1215.62 189.2h1.56v71.1h-1.56zM1181.72 189.2h1.41v71.1h-1.41zM1177.19 189.2h1.25v71.1h-1.25zM1247.5 189.2h1.25v71.1h-1.25z" fill="#c21d30"/>
<path d="M1413.28 189.2h2.03v71.1h-2.03z" fill="#9ebeff"/>
<path d="M1179.06 189.2h1.88v71.1h-1.88z" fill="#d7dce3"/>
<path d="M1307.03 189.2h1.88v71.1h-1.88z" fill="#e9d5cb"/>
<path d="M1186.88 189.2h1.56v71.1h-1.56zM1200.78 189.2h1.56v71.1h-1.56zM1364.84 189.2h1.09v71.1h-1.09z" fill="#afcafc"/>
<path d="M1238.28 189.2h1.56v71.1h-1.56z" fill="#c82d36"/>
<path d="M1298.12 189.2h1.56v71.1h-1.56zM1391.88 189.2h1.09v71.1h-1.09zM1410.16 189.2h1.09v71.1h-1.09z" fill="#7b9ff9"/>
<path d="M1370.62 189.2h1.56v71.1h-1.56zM1175.78 189.2h1.41v71.1h-1.41z" fill="#f6bda2"/>
<path d="M1375.78 189.2h1.56v71.1h-1.56z" fill="#6f90ed"/>
<path d="M1246.09 189.2h1.41v71.1h-1.41z" fill="#f7ac8e"/>
<path d="M1396.88 189.2h1.25v71.1h-1.25z" fill="#ee8468"/>
<path d="M1222.19 260.3h3.59v71.9h-3.59z" fill="#e2dad5"/>
<path d="M1343.44 260.3h2.19v71.9h-2.19zM1225.78 260.3h1.88v71.9h-1.88zM1233.91 260.3h1.72v71.9h-1.72zM1240.16 260.3h1.72v71.9h-1.72zM1263.28 260.3h1.56v71.9h-1.56zM1318.28 260.3h1.56v71.9h-1.56zM1328.12 260.3h1.56v71.9h-1.56zM1351.25 260.3h1.41v71.9h-1.41z" fill="#c21d30"/>
<path d="M1322.19 260.3h2.03v71.9h-2.03z" fill="#edd2c3"/>
<path d="M1336.25 260.3h2.03v71.9h-2.03z" fill="#f2cbb7"/>
<path d="M1313.75 260.3h1.88v71.9h-1.88z" fill="#f6bda2"/>
<path d="M1219.53 260.3h1.56v71.9h-1.56z" fill="#afcafc"/>
<path d="M1324.69 260.3h1.56v71.9h-1.56z" fill="#dddcdc"/>
<path d="M1171.09 260.3h0.78v71.9h-0.78z" fill="#5e7ddd"/>
<path d="M1415.6 82H1475.5V207H1472.5M1415.6 153.2H1472.5V260.6H1456.6M1415.6 225.4H1456.6V296.6H1415.6" fill="none" stroke="#7a7a7a" stroke-width="1.2"/>
<rect x="1499" y="155" width="9.2" height="87.7" fill="url(#cb1)"/>
<rect x="1508.2" y="156" width="0.8" height="86.7" fill="url(#cb1r)"/>
<text x="1508.5" y="160" font-family="'Liberation Sans', sans-serif" font-size="11.5">3</text>
<text x="1504.5" y="250.3" font-family="'Liberation Sans', sans-serif" font-size="11.5">-3</text>
<text transform="translate(1477 175.5) rotate(90)" font-family="'DejaVu Sans', sans-serif" font-size="14.5" fill="#1a1a1a">Zscore</text>
</g>
<g id="panelB">
<text x="1522" y="37.5" font-family="'Liberation Sans', sans-serif" font-size="52">B</text>
<rect x="1719.2" y="68.2" width="194.4" height="18.2" fill="#82caec" stroke="#333333" stroke-width="1.3"/>
<rect x="1719.2" y="96.2" width="299.4" height="18.2" fill="#edcfaa" stroke="#333333" stroke-width="1.3"/>
<rect x="1719.2" y="126.7" width="91.4" height="18.2" fill="#c0c0c0" stroke="#333333" stroke-width="1.3"/>
<line x1="1709.3" y1="105.9" x2="1719.2" y2="105.9" stroke="#000" stroke-width="1.8"/>
<text x="1706.3" y="115.1" font-family="'Liberation Sans', sans-serif" font-size="25" text-anchor="end">ASCL1</text>
<rect x="1719.2" y="174.7" width="57.7" height="18.3" fill="#82caec" stroke="#333333" stroke-width="1.3"/>
<rect x="1719.2" y="202.7" width="60.9" height="18.6" fill="#edcfaa" stroke="#333333" stroke-width="1.3"/>
<rect x="1719.2" y="233.2" width="56.7" height="18.3" fill="#c0c0c0" stroke="#333333" stroke-width="1.3"/>
<line x1="1709.3" y1="212.3" x2="1719.2" y2="212.3" stroke="#000" stroke-width="1.8"/>
<text x="1706.3" y="221.5" font-family="'Liberation Sans', sans-serif" font-size="25" text-anchor="end">NEUROD1</text>
<rect x="1719.2" y="281.6" width="9.3" height="18.6" fill="#82caec" stroke="#333333" stroke-width="1.3"/>
<rect x="1719.2" y="309.6" width="30.3" height="18.5" fill="#edcfaa" stroke="#333333" stroke-width="1.3"/>
<rect x="1719.2" y="339.8" width="62.4" height="18.6" fill="#c0c0c0" stroke="#333333" stroke-width="1.3"/>
<line x1="1709.3" y1="319.2" x2="1719.2" y2="319.2" stroke="#000" stroke-width="1.8"/>
<text x="1706.3" y="328.4" font-family="'Liberation Sans', sans-serif" font-size="25" text-anchor="end">POU2F3</text>
<rect x="1719.2" y="388.7" width="184.6" height="18.2" fill="#82caec" stroke="#333333" stroke-width="1.3"/>
<rect x="1719.2" y="416.7" width="115.2" height="18.5" fill="#edcfaa" stroke="#333333" stroke-width="1.3"/>
<rect x="1719.2" y="446.9" width="268.6" height="18.2" fill="#c0c0c0" stroke="#333333" stroke-width="1.3"/>
<line x1="1709.3" y1="426.2" x2="1719.2" y2="426.2" stroke="#000" stroke-width="1.8"/>
<text x="1706.3" y="435.4" font-family="'Liberation Sans', sans-serif" font-size="25" text-anchor="end">YAP1</text>
<rect x="1719.2" y="495.2" width="214.2" height="18.3" fill="#82caec" stroke="#333333" stroke-width="1.3"/>
<rect x="1719.2" y="523.6" width="164.2" height="18.2" fill="#edcfaa" stroke="#333333" stroke-width="1.3"/>
<rect x="1719.2" y="553.8" width="188.4" height="18.2" fill="#c0c0c0" stroke="#333333" stroke-width="1.3"/>
<line x1="1709.3" y1="533" x2="1719.2" y2="533" stroke="#000" stroke-width="1.8"/>
<text x="1706.3" y="542.2" font-family="'Liberation Sans', sans-serif" font-size="25" text-anchor="end">Mixed</text>
<rect x="1719.2" y="602.1" width="155.3" height="18.3" fill="#82caec" stroke="#333333" stroke-width="1.3"/>
<rect x="1719.2" y="630.1" width="146.1" height="18.3" fill="#edcfaa" stroke="#333333" stroke-width="1.3"/>
<rect x="1719.2" y="660.3" width="148.3" height="18.3" fill="#c0c0c0" stroke="#333333" stroke-width="1.3"/>
<line x1="1709.3" y1="639.6" x2="1719.2" y2="639.6" stroke="#000" stroke-width="1.8"/>
<text x="1706.3" y="648.8" font-family="'Liberation Sans', sans-serif" font-size="25" text-anchor="end">TF Negative</text>
<path d="M1719.2 58.2V688.5H2047.2" fill="none" stroke="#000" stroke-width="1.6"/>
<line x1="1719.2" y1="688.5" x2="1719.2" y2="698" stroke="#000" stroke-width="1.6"/>
<text x="1719.2" y="722.3" font-family="'Liberation Sans', sans-serif" font-size="22.8" text-anchor="middle">0</text>
<line x1="1801.1" y1="688.5" x2="1801.1" y2="698" stroke="#000" stroke-width="1.6"/>
<text x="1801.1" y="722.3" font-family="'Liberation Sans', sans-serif" font-size="22.8" text-anchor="middle">10</text>
<line x1="1883" y1="688.5" x2="1883" y2="698" stroke="#000" stroke-width="1.6"/>
<text x="1883" y="722.3" font-family="'Liberation Sans', sans-serif" font-size="22.8" text-anchor="middle">20</text>
<line x1="1964.9" y1="688.5" x2="1964.9" y2="698" stroke="#000" stroke-width="1.6"/>
<text x="1964.9" y="722.3" font-family="'Liberation Sans', sans-serif" font-size="22.8" text-anchor="middle">30</text>
<line x1="2046.8" y1="688.5" x2="2046.8" y2="698" stroke="#000" stroke-width="1.6"/>
<text x="2046.8" y="722.3" font-family="'Liberation Sans', sans-serif" font-size="22.8" text-anchor="middle">40</text>
<text x="1884.2" y="755.7" font-family="'Liberation Sans', sans-serif" font-size="22.5" text-anchor="middle">Prevalence (%)</text>
<rect x="1928.8" y="605" width="25.5" height="13" fill="#82caec" stroke="#333333" stroke-width="1.2"/>
<text x="1968.6" y="617.6" font-family="'Liberation Sans', sans-serif" font-size="19.3">NSCLC-like</text>
<rect x="1929.5" y="633.9" width="25.5" height="12.8" fill="#edcfaa" stroke="#333333" stroke-width="1.2"/>
<text x="1969.3" y="646" font-family="'Liberation Sans', sans-serif" font-size="19.3">SCLC-like</text>
<rect x="1930.3" y="663.2" width="25.5" height="13" fill="#c0c0c0" stroke="#333333" stroke-width="1.2"/>
<text x="1970.1" y="675.9" font-family="'Liberation Sans', sans-serif" font-size="19.3">Unclassfied</text>
</g>
<g id="panelC">
<text x="-0.5" y="860.5" font-family="'Liberation Sans', sans-serif" font-size="52">C</text>
<line x1="208.1" y1="888.4" x2="208.1" y2="1016.2" stroke="#000" stroke-width="2"/>
<line x1="184.8" y1="889.3" x2="208.1" y2="889.3" stroke="#000" stroke-width="2"/>
<text x="178.6" y="898.9" font-family="'Liberation Sans', sans-serif" font-size="26.9" text-anchor="end">100</text>
<line x1="184.8" y1="931.4" x2="208.1" y2="931.4" stroke="#000" stroke-width="2"/>
<text x="178.6" y="941" font-family="'Liberation Sans', sans-serif" font-size="26.9" text-anchor="end">90</text>
<line x1="184.8" y1="973.8" x2="208.1" y2="973.8" stroke="#000" stroke-width="2"/>
<text x="178.6" y="983.4" font-family="'Liberation Sans', sans-serif" font-size="26.9" text-anchor="end">80</text>
<line x1="198.3" y1="1016.2" x2="218.3" y2="1016.2" stroke="#000" stroke-width="2"/>
<text x="178.6" y="1025.8" font-family="'Liberation Sans', sans-serif" font-size="26.9" text-anchor="end">70</text>
<line x1="198.3" y1="1048.4" x2="218.3" y2="1048.4" stroke="#000" stroke-width="2"/>
<text x="188" y="1058" font-family="'Liberation Sans', sans-serif" font-size="26.9" text-anchor="end">50</text>
<line x1="208.1" y1="1048.4" x2="208.1" y2="1544" stroke="#000" stroke-width="2"/>
<line x1="193.5" y1="1144.6" x2="208.1" y2="1144.6" stroke="#000" stroke-width="2"/>
<text x="188" y="1154.2" font-family="'Liberation Sans', sans-serif" font-size="26.9" text-anchor="end">40</text>
<line x1="193.5" y1="1240.5" x2="208.1" y2="1240.5" stroke="#000" stroke-width="2"/>
<text x="188" y="1250.1" font-family="'Liberation Sans', sans-serif" font-size="26.9" text-anchor="end">30</text>
<line x1="193.5" y1="1336.6" x2="208.1" y2="1336.6" stroke="#000" stroke-width="2"/>
<text x="188" y="1346.2" font-family="'Liberation Sans', sans-serif" font-size="26.9" text-anchor="end">20</text>
<line x1="193.5" y1="1432.8" x2="208.1" y2="1432.8" stroke="#000" stroke-width="2"/>
<text x="188" y="1442.4" font-family="'Liberation Sans', sans-serif" font-size="26.9" text-anchor="end">10</text>
<line x1="193.5" y1="1529.1" x2="208.1" y2="1529.1" stroke="#000" stroke-width="2"/>
<text x="188" y="1538.7" font-family="'Liberation Sans', sans-serif" font-size="26.9" text-anchor="end">0</text>
<line x1="207.2" y1="1529.3" x2="891.8" y2="1529.3" stroke="#000" stroke-width="2"/>
<text x="207.8" y="1573.9" font-family="'Liberation Sans', sans-serif" font-size="26.9" text-anchor="middle">0</text>
<line x1="276.11" y1="1529.3" x2="276.11" y2="1544" stroke="#000" stroke-width="2"/>
<text x="276.11" y="1573.9" font-family="'Liberation Sans', sans-serif" font-size="26.9" text-anchor="middle">10</text>
<line x1="344.42" y1="1529.3" x2="344.42" y2="1544" stroke="#000" stroke-width="2"/>
<text x="344.42" y="1573.9" font-family="'Liberation Sans', sans-serif" font-size="26.9" text-anchor="middle">20</text>
<line x1="412.73" y1="1529.3" x2="412.73" y2="1544" stroke="#000" stroke-width="2"/>
<text x="412.73" y="1573.9" font-family="'Liberation Sans', sans-serif" font-size="26.9" text-anchor="middle">30</text>
<line x1="481.04" y1="1529.3" x2="481.04" y2="1544" stroke="#000" stroke-width="2"/>
<text x="481.04" y="1573.9" font-family="'Liberation Sans', sans-serif" font-size="26.9" text-anchor="middle">40</text>
<line x1="549.35" y1="1529.3" x2="549.35" y2="1544" stroke="#000" stroke-width="2"/>
<text x="549.35" y="1573.9" font-family="'Liberation Sans', sans-serif" font-size="26.9" text-anchor="middle">50</text>
<line x1="617.66" y1="1529.3" x2="617.66" y2="1544" stroke="#000" stroke-width="2"/>
<text x="617.66" y="1573.9" font-family="'Liberation Sans', sans-serif" font-size="26.9" text-anchor="middle">60</text>
<line x1="685.97" y1="1529.3" x2="685.97" y2="1544" stroke="#000" stroke-width="2"/>
<text x="685.97" y="1573.9" font-family="'Liberation Sans', sans-serif" font-size="26.9" text-anchor="middle">70</text>
<line x1="754.28" y1="1529.3" x2="754.28" y2="1544" stroke="#000" stroke-width="2"/>
<text x="754.28" y="1573.9" font-family="'Liberation Sans', sans-serif" font-size="26.9" text-anchor="middle">80</text>
<line x1="822.59" y1="1529.3" x2="822.59" y2="1544" stroke="#000" stroke-width="2"/>
<text x="822.59" y="1573.9" font-family="'Liberation Sans', sans-serif" font-size="26.9" text-anchor="middle">90</text>
<line x1="890.9" y1="1529.3" x2="890.9" y2="1544" stroke="#000" stroke-width="2"/>
<text x="890.9" y="1573.9" font-family="'Liberation Sans', sans-serif" font-size="26.9" text-anchor="middle">100</text>
<text x="555.3" y="1622.2" font-family="'Liberation Sans', sans-serif" font-size="29.8" text-anchor="middle">Alteration Prevalence in SCLC-like LCNEC (N = 136), %</text>
<text transform="translate(114.7 1209.2) rotate(-90)" font-family="'Liberation Sans', sans-serif" font-size="30" text-anchor="middle">Alteration Prevalence in SCLC (N = 1704), %</text>
<circle cx="240.8" cy="900.4" r="15" fill="#a6a6a6" stroke="#000" stroke-width="1.2"/>
<text x="264.3" y="911.5" font-family="'Liberation Sans', sans-serif" font-size="22">Not Significant</text>
<circle cx="240.8" cy="942" r="15" fill="#7fe1b6" stroke="#000" stroke-width="1.2"/>
<text x="264.3" y="950" font-family="'Liberation Sans', sans-serif" font-size="22">More prevalent in SCLC p&lt;0.05</text>
<circle cx="240.8" cy="984.2" r="15" fill="#deb887" stroke="#000" stroke-width="1.2"/>
<text x="264.3" y="989.7" font-family="'Liberation Sans', sans-serif" font-size="22">More prevalent in SCLC-like LCNEC p&lt;0.05</text>
<circle cx="233.1" cy="1493" r="7.4" fill="#a9a9a9"/>
<circle cx="238.7" cy="1497.2" r="7.4" fill="#a9a9a9"/>
<circle cx="237" cy="1505.5" r="7.4" fill="#a9a9a9"/>
<circle cx="230.9" cy="1508" r="7.4" fill="#a9a9a9"/>
<circle cx="212.8" cy="1504" r="7.4" fill="#a9a9a9"/>
<circle cx="213.6" cy="1510.5" r="7.4" fill="#a9a9a9"/>
<circle cx="217" cy="1516.7" r="7.4" fill="#a9a9a9"/>
<circle cx="223" cy="1520" r="7.4" fill="#a9a9a9"/>
<circle cx="227" cy="1513" r="7.4" fill="#a9a9a9"/>
<circle cx="220" cy="1523.5" r="7.4" fill="#a9a9a9"/>
<circle cx="216" cy="1526" r="7.4" fill="#a9a9a9"/>
<circle cx="210.5" cy="1524.5" r="7.4" fill="#a9a9a9"/>
<circle cx="207.5" cy="1527.5" r="7.4" fill="#a9a9a9"/>
<circle cx="213.5" cy="1530" r="7.4" fill="#a9a9a9"/>
<circle cx="209" cy="1531" r="7.4" fill="#a9a9a9"/>
<circle cx="274.7" cy="1466.2" r="7.4" fill="#a9a9a9"/>
<circle cx="294" cy="1419.6" r="7.4" fill="#a9a9a9"/>
<circle cx="238.7" cy="1520.9" r="7.4" fill="#dfb583"/>
<circle cx="323.5" cy="1507.5" r="7.4" fill="#dfb583"/>
<circle cx="334.2" cy="1447" r="7.4" fill="#dfb583"/>
<circle cx="546.6" cy="1224.3" r="7.4" fill="#dfb583"/>
<circle cx="890.6" cy="928" r="7.4" fill="#dfb583"/>
<circle cx="890.6" cy="998.9" r="7.4" fill="#dfb583"/>
<line x1="207.8" y1="1529.2" x2="836.8" y2="869.1" stroke="#000" stroke-width="2" stroke-dasharray="7.4 2.7"/>
<text x="308.8" y="1427.4" font-family="'Liberation Sans', sans-serif" font-size="24.8">KMT2D</text>
<text x="347.3" y="1448.4" font-family="'Liberation Sans', sans-serif" font-size="24.8">LOH</text>
<text x="289.5" y="1473.5" font-family="'Liberation Sans', sans-serif" font-size="24.8">PTEN</text>
<text x="199.4" y="1483.8" font-family="'Liberation Sans', sans-serif" font-size="24.8">KRAS</text>
<text x="338.4" y="1515.3" font-family="'Liberation Sans', sans-serif" font-size="24.8">KEAP1</text>
<text x="253" y="1527.9" font-family="'Liberation Sans', sans-serif" font-size="24.8">STK11</text>
<text x="903.2" y="935.8" font-family="'Liberation Sans', sans-serif" font-size="24.8">TP53</text>
<text x="907.1" y="1008.3" font-family="'Liberation Sans', sans-serif" font-size="24.8">RB1</text>
<text x="561.2" y="1232.4" font-family="'Liberation Sans', sans-serif" font-size="24.8">TMB High</text>
</g>
<g id="panelD">
<text x="1128.5" y="860" font-family="'Liberation Sans', sans-serif" font-size="52">D</text>
<rect x="1412.9" y="920.4" width="37.54" height="25.7" fill="#e8c79c" stroke="#000" stroke-width="2.1"/>
<rect x="1412.9" y="962.6" width="6.71" height="25.6" fill="#72e0aa" stroke="#000" stroke-width="2.1"/>
<text x="1459.84" y="940.6" font-family="'Liberation Sans', sans-serif" font-size="22.4">4.5</text>
<text x="1429.01" y="982.7" font-family="'Liberation Sans', sans-serif" font-size="22.4">0.9</text>
<line x1="1395.3" y1="953.75" x2="1412.9" y2="953.75" stroke="#000" stroke-width="2"/>
<text x="1389" y="965.75" font-family="'Liberation Sans', sans-serif" font-size="35" text-anchor="end">STK11</text>
<rect x="1412.9" y="1032.9" width="5" height="25.6" fill="#e8c79c" stroke="#000" stroke-width="2.1"/>
<rect x="1412.9" y="1075.7" width="20.41" height="25.65" fill="#72e0aa" stroke="#000" stroke-width="2.1"/>
<text x="1427.3" y="1053" font-family="'Liberation Sans', sans-serif" font-size="22.4">0.7</text>
<text x="1442.71" y="1095.85" font-family="'Liberation Sans', sans-serif" font-size="22.4">2.5</text>
<line x1="1395.3" y1="1066.6" x2="1412.9" y2="1066.6" stroke="#000" stroke-width="2"/>
<text x="1389" y="1078.6" font-family="'Liberation Sans', sans-serif" font-size="35" text-anchor="end">KRAS</text>
<rect x="1412.9" y="1145.4" width="143.75" height="26.4" fill="#e8c79c" stroke="#000" stroke-width="2.1"/>
<rect x="1412.9" y="1187.9" width="18.7" height="25.95" fill="#72e0aa" stroke="#000" stroke-width="2.1"/>
<text x="1566.05" y="1166.3" font-family="'Liberation Sans', sans-serif" font-size="22.4">16.9</text>
<text x="1441" y="1208.35" font-family="'Liberation Sans', sans-serif" font-size="22.4">2.3</text>
<line x1="1395.3" y1="1179.4" x2="1412.9" y2="1179.4" stroke="#000" stroke-width="2"/>
<text x="1389" y="1191.4" font-family="'Liberation Sans', sans-serif" font-size="35" text-anchor="end">KEAP1</text>
<rect x="1412.9" y="1262.6" width="11.85" height="25.9" fill="#e8c79c" stroke="#000" stroke-width="2.1"/>
<rect x="1412.9" y="1304.5" width="5" height="26.5" fill="#72e0aa" stroke="#000" stroke-width="2.1"/>
<text x="1434.15" y="1283" font-family="'Liberation Sans', sans-serif" font-size="22.4">1.5</text>
<text x="1427.3" y="1325.5" font-family="'Liberation Sans', sans-serif" font-size="22.4">0.7</text>
<line x1="1395.3" y1="1296" x2="1412.9" y2="1296" stroke="#000" stroke-width="2"/>
<text x="1389" y="1308" font-family="'Liberation Sans', sans-serif" font-size="35" text-anchor="end">dMMR/MSI-H</text>
<rect x="1412.9" y="1375.1" width="423.82" height="25.6" fill="#e8c79c" stroke="#000" stroke-width="2.1"/>
<rect x="1412.9" y="1417.6" width="270.51" height="25.9" fill="#72e0aa" stroke="#000" stroke-width="2.1"/>
<text x="1846.12" y="1395.2" font-family="'Liberation Sans', sans-serif" font-size="22.4">49.6</text>
<text x="1692.81" y="1438" font-family="'Liberation Sans', sans-serif" font-size="22.4">31.7</text>
<line x1="1395.3" y1="1408.4" x2="1412.9" y2="1408.4" stroke="#000" stroke-width="2"/>
<text x="1389" y="1420.4" font-family="'Liberation Sans', sans-serif" font-size="35" text-anchor="end">TMB-high</text>
<path d="M1412.9 903.1V1476.9M1411.9 1457.5H1927.7" fill="none" stroke="#000" stroke-width="2"/>
<line x1="1584.2" y1="1457.5" x2="1584.2" y2="1476.9" stroke="#000" stroke-width="2"/>
<line x1="1755.5" y1="1457.5" x2="1755.5" y2="1476.9" stroke="#000" stroke-width="2"/>
<line x1="1926.8" y1="1457.5" x2="1926.8" y2="1476.9" stroke="#000" stroke-width="2"/>
<text x="1412.9" y="1516.6" font-family="'Liberation Sans', sans-serif" font-size="34" text-anchor="middle">0</text>
<text x="1584.2" y="1516.6" font-family="'Liberation Sans', sans-serif" font-size="34" text-anchor="middle">20</text>
<text x="1755.5" y="1516.6" font-family="'Liberation Sans', sans-serif" font-size="34" text-anchor="middle">40</text>
<text x="1926.8" y="1516.6" font-family="'Liberation Sans', sans-serif" font-size="34" text-anchor="middle">60</text>
<text x="1669.8" y="1571.2" font-family="'Liberation Sans', sans-serif" font-size="34.8" text-anchor="middle">Prevalence (%)</text>
<path d="M1498.4 918.75H1510V982.5H1498.4" fill="none" stroke="#ff2a1c" stroke-width="2"/>
<path d="M1615.1 1137.4H1627.2V1201H1615.1" fill="none" stroke="#ff2a1c" stroke-width="2"/>
<path d="M1899.7 1367.8H1912.2V1431.6H1899.7" fill="none" stroke="#ff2a1c" stroke-width="2"/>
<text x="1535.3" y="967.3" font-family="'Liberation Sans', sans-serif" font-size="25.5" text-anchor="middle" stroke="#000" stroke-width="0.5" letter-spacing="0.9">**</text>
<text x="1663.5" y="1186" font-family="'Liberation Sans', sans-serif" font-size="25.5" text-anchor="middle" stroke="#000" stroke-width="0.5" letter-spacing="0.9">****</text>
<text x="1948.3" y="1417" font-family="'Liberation Sans', sans-serif" font-size="25.5" text-anchor="middle" stroke="#000" stroke-width="0.5" letter-spacing="0.9">****</text>
<rect x="1684.5" y="908.2" width="46.1" height="14.8" fill="#72e0aa" stroke="#000" stroke-width="2"/>
<rect x="1684.5" y="950.8" width="46.1" height="15.2" fill="#e8c79c" stroke="#000" stroke-width="2"/>
<text x="1759.5" y="925.6" font-family="'Liberation Sans', sans-serif" font-size="31.8">SCLC</text>
<text x="1759.5" y="968.5" font-family="'Liberation Sans', sans-serif" font-size="31.8">SCLC-like LCNEC</text>
</g>
<g id="panelE">
<text x="729.5" y="1725" font-family="'Liberation Sans', sans-serif" font-size="53">E</text>
<g transform="translate(1086 0) scale(1.06 1) translate(-1086 0)">
<path d="M961.4 1903.9a2.95 2.95 0 1 0 5.9 0a2.95 2.95 0 1 0 -5.9 0zM961.4 1913.31a2.95 2.95 0 1 0 5.9 0a2.95 2.95 0 1 0 -5.9 0zM961.4 1919.02a2.95 2.95 0 1 0 5.9 0a2.95 2.95 0 1 0 -5.9 0zM951 1930.72a2.95 2.95 0 1 0 5.9 0a2.95 2.95 0 1 0 -5.9 0zM957.93 1932.92a2.95 2.95 0 1 0 5.9 0a2.95 2.95 0 1 0 -5.9 0zM964.87 1935.73a2.95 2.95 0 1 0 5.9 0a2.95 2.95 0 1 0 -5.9 0zM957.93 1939.25a2.95 2.95 0 1 0 5.9 0a2.95 2.95 0 1 0 -5.9 0zM964.87 1942.15a2.95 2.95 0 1 0 5.9 0a2.95 2.95 0 1 0 -5.9 0zM964.87 1950.07a2.95 2.95 0 1 0 5.9 0a2.95 2.95 0 1 0 -5.9 0zM957.93 1953.76a2.95 2.95 0 1 0 5.9 0a2.95 2.95 0 1 0 -5.9 0zM957.93 1959.74a2.95 2.95 0 1 0 5.9 0a2.95 2.95 0 1 0 -5.9 0zM964.87 1963a2.95 2.95 0 1 0 5.9 0a2.95 2.95 0 1 0 -5.9 0zM964.87 1978.21a2.95 2.95 0 1 0 5.9 0a2.95 2.95 0 1 0 -5.9 0zM971.8 1981.47a2.95 2.95 0 1 0 5.9 0a2.95 2.95 0 1 0 -5.9 0zM951 1983.05a2.95 2.95 0 1 0 5.9 0a2.95 2.95 0 1 0 -5.9 0zM957.93 1984.99a2.95 2.95 0 1 0 5.9 0a2.95 2.95 0 1 0 -5.9 0zM964.87 1985.43a2.95 2.95 0 1 0 5.9 0a2.95 2.95 0 1 0 -5.9 0zM971.8 2003.63a2.95 2.95 0 1 0 5.9 0a2.95 2.95 0 1 0 -5.9 0zM957.93 2008.56a2.95 2.95 0 1 0 5.9 0a2.95 2.95 0 1 0 -5.9 0zM964.87 2008.56a2.95 2.95 0 1 0 5.9 0a2.95 2.95 0 1 0 -5.9 0zM964.87 2021.22a2.95 2.95 0 1 0 5.9 0a2.95 2.95 0 1 0 -5.9 0zM957.93 2022.81a2.95 2.95 0 1 0 5.9 0a2.95 2.95 0 1 0 -5.9 0zM964.87 2032.48a2.95 2.95 0 1 0 5.9 0a2.95 2.95 0 1 0 -5.9 0zM971.8 2035.29a2.95 2.95 0 1 0 5.9 0a2.95 2.95 0 1 0 -5.9 0zM978.73 2035.29a2.95 2.95 0 1 0 5.9 0a2.95 2.95 0 1 0 -5.9 0zM944.06 2036.7a2.95 2.95 0 1 0 5.9 0a2.95 2.95 0 1 0 -5.9 0zM957.93 2037.76a2.95 2.95 0 1 0 5.9 0a2.95 2.95 0 1 0 -5.9 0zM964.87 2039.08a2.95 2.95 0 1 0 5.9 0a2.95 2.95 0 1 0 -5.9 0zM951 2042.33a2.95 2.95 0 1 0 5.9 0a2.95 2.95 0 1 0 -5.9 0zM957.93 2043.74a2.95 2.95 0 1 0 5.9 0a2.95 2.95 0 1 0 -5.9 0zM964.87 2044.79a2.95 2.95 0 1 0 5.9 0a2.95 2.95 0 1 0 -5.9 0zM971.8 2044.35a2.95 2.95 0 1 0 5.9 0a2.95 2.95 0 1 0 -5.9 0zM951 2048.84a2.95 2.95 0 1 0 5.9 0a2.95 2.95 0 1 0 -5.9 0zM957.93 2050.77a2.95 2.95 0 1 0 5.9 0a2.95 2.95 0 1 0 -5.9 0zM937.14 2059.75a2.95 2.95 0 1 0 5.9 0a2.95 2.95 0 1 0 -5.9 0zM937.14 2157.24a2.95 2.95 0 1 0 5.9 0a2.95 2.95 0 1 0 -5.9 0zM937.14 2204.32a2.95 2.95 0 1 0 5.9 0a2.95 2.95 0 1 0 -5.9 0zM937.14 2211.28a2.95 2.95 0 1 0 5.9 0a2.95 2.95 0 1 0 -5.9 0zM944.09 2059.94a2.95 2.95 0 1 0 5.9 0a2.95 2.95 0 1 0 -5.9 0zM944.09 2077.58a2.95 2.95 0 1 0 5.9 0a2.95 2.95 0 1 0 -5.9 0zM944.09 2089.46a2.95 2.95 0 1 0 5.9 0a2.95 2.95 0 1 0 -5.9 0zM944.09 2096.24a2.95 2.95 0 1 0 5.9 0a2.95 2.95 0 1 0 -5.9 0zM944.09 2133.57a2.95 2.95 0 1 0 5.9 0a2.95 2.95 0 1 0 -5.9 0zM944.09 2140.99a2.95 2.95 0 1 0 5.9 0a2.95 2.95 0 1 0 -5.9 0zM944.09 2161.42a2.95 2.95 0 1 0 5.9 0a2.95 2.95 0 1 0 -5.9 0zM944.09 2174.61a2.95 2.95 0 1 0 5.9 0a2.95 2.95 0 1 0 -5.9 0zM944.09 2203.85a2.95 2.95 0 1 0 5.9 0a2.95 2.95 0 1 0 -5.9 0zM944.09 2209.7a2.95 2.95 0 1 0 5.9 0a2.95 2.95 0 1 0 -5.9 0zM951.03 2058.17a2.95 2.95 0 1 0 5.9 0a2.95 2.95 0 1 0 -5.9 0zM951.03 2077.21a2.95 2.95 0 1 0 5.9 0a2.95 2.95 0 1 0 -5.9 0zM951.03 2082.68a2.95 2.95 0 1 0 5.9 0a2.95 2.95 0 1 0 -5.9 0zM951.03 2091.6a2.95 2.95 0 1 0 5.9 0a2.95 2.95 0 1 0 -5.9 0zM951.03 2097.82a2.95 2.95 0 1 0 5.9 0a2.95 2.95 0 1 0 -5.9 0zM951.03 2106.82a2.95 2.95 0 1 0 5.9 0a2.95 2.95 0 1 0 -5.9 0zM951.03 2120.57a2.95 2.95 0 1 0 5.9 0a2.95 2.95 0 1 0 -5.9 0zM951.03 2127.99a2.95 2.95 0 1 0 5.9 0a2.95 2.95 0 1 0 -5.9 0zM951.03 2140.53a2.95 2.95 0 1 0 5.9 0a2.95 2.95 0 1 0 -5.9 0zM951.03 2161.14a2.95 2.95 0 1 0 5.9 0a2.95 2.95 0 1 0 -5.9 0zM951.03 2170.89a2.95 2.95 0 1 0 5.9 0a2.95 2.95 0 1 0 -5.9 0zM951.03 2176.93a2.95 2.95 0 1 0 5.9 0a2.95 2.95 0 1 0 -5.9 0zM951.03 2190.02a2.95 2.95 0 1 0 5.9 0a2.95 2.95 0 1 0 -5.9 0zM951.03 2199.49a2.95 2.95 0 1 0 5.9 0a2.95 2.95 0 1 0 -5.9 0zM951.03 2205.71a2.95 2.95 0 1 0 5.9 0a2.95 2.95 0 1 0 -5.9 0zM951.03 2213.6a2.95 2.95 0 1 0 5.9 0a2.95 2.95 0 1 0 -5.9 0zM951.03 2220.38a2.95 2.95 0 1 0 5.9 0a2.95 2.95 0 1 0 -5.9 0zM951.03 2226.88a2.95 2.95 0 1 0 5.9 0a2.95 2.95 0 1 0 -5.9 0zM951.03 2232.17a2.95 2.95 0 1 0 5.9 0a2.95 2.95 0 1 0 -5.9 0zM957.97 2060.68a2.95 2.95 0 1 0 5.9 0a2.95 2.95 0 1 0 -5.9 0zM957.97 2066.71a2.95 2.95 0 1 0 5.9 0a2.95 2.95 0 1 0 -5.9 0zM957.97 2072.56a2.95 2.95 0 1 0 5.9 0a2.95 2.95 0 1 0 -5.9 0zM957.97 2078.32a2.95 2.95 0 1 0 5.9 0a2.95 2.95 0 1 0 -5.9 0zM957.97 2086.4a2.95 2.95 0 1 0 5.9 0a2.95 2.95 0 1 0 -5.9 0zM957.97 2093.45a2.95 2.95 0 1 0 5.9 0a2.95 2.95 0 1 0 -5.9 0zM957.97 2104.78a2.95 2.95 0 1 0 5.9 0a2.95 2.95 0 1 0 -5.9 0zM957.97 2110.82a2.95 2.95 0 1 0 5.9 0a2.95 2.95 0 1 0 -5.9 0zM957.97 2116.85a2.95 2.95 0 1 0 5.9 0a2.95 2.95 0 1 0 -5.9 0zM957.97 2129.39a2.95 2.95 0 1 0 5.9 0a2.95 2.95 0 1 0 -5.9 0zM957.97 2139.88a2.95 2.95 0 1 0 5.9 0a2.95 2.95 0 1 0 -5.9 0zM957.97 2147.96a2.95 2.95 0 1 0 5.9 0a2.95 2.95 0 1 0 -5.9 0zM957.97 2159.56a2.95 2.95 0 1 0 5.9 0a2.95 2.95 0 1 0 -5.9 0zM957.97 2165.41a2.95 2.95 0 1 0 5.9 0a2.95 2.95 0 1 0 -5.9 0zM957.97 2170.98a2.95 2.95 0 1 0 5.9 0a2.95 2.95 0 1 0 -5.9 0zM957.97 2180.45a2.95 2.95 0 1 0 5.9 0a2.95 2.95 0 1 0 -5.9 0zM957.97 2193.92a2.95 2.95 0 1 0 5.9 0a2.95 2.95 0 1 0 -5.9 0zM957.97 2199.49a2.95 2.95 0 1 0 5.9 0a2.95 2.95 0 1 0 -5.9 0zM957.97 2205.52a2.95 2.95 0 1 0 5.9 0a2.95 2.95 0 1 0 -5.9 0zM957.97 2212.21a2.95 2.95 0 1 0 5.9 0a2.95 2.95 0 1 0 -5.9 0zM957.97 2218.25a2.95 2.95 0 1 0 5.9 0a2.95 2.95 0 1 0 -5.9 0zM964.92 2062.35a2.95 2.95 0 1 0 5.9 0a2.95 2.95 0 1 0 -5.9 0zM964.92 2069.68a2.95 2.95 0 1 0 5.9 0a2.95 2.95 0 1 0 -5.9 0zM964.92 2078.32a2.95 2.95 0 1 0 5.9 0a2.95 2.95 0 1 0 -5.9 0zM964.92 2089.65a2.95 2.95 0 1 0 5.9 0a2.95 2.95 0 1 0 -5.9 0zM964.92 2095.5a2.95 2.95 0 1 0 5.9 0a2.95 2.95 0 1 0 -5.9 0zM964.92 2104.6a2.95 2.95 0 1 0 5.9 0a2.95 2.95 0 1 0 -5.9 0zM964.92 2111.75a2.95 2.95 0 1 0 5.9 0a2.95 2.95 0 1 0 -5.9 0zM964.92 2121.49a2.95 2.95 0 1 0 5.9 0a2.95 2.95 0 1 0 -5.9 0zM964.92 2127.07a2.95 2.95 0 1 0 5.9 0a2.95 2.95 0 1 0 -5.9 0zM964.92 2137.09a2.95 2.95 0 1 0 5.9 0a2.95 2.95 0 1 0 -5.9 0zM964.92 2143.13a2.95 2.95 0 1 0 5.9 0a2.95 2.95 0 1 0 -5.9 0zM964.92 2148.42a2.95 2.95 0 1 0 5.9 0a2.95 2.95 0 1 0 -5.9 0zM964.92 2159.29a2.95 2.95 0 1 0 5.9 0a2.95 2.95 0 1 0 -5.9 0zM964.92 2171.63a2.95 2.95 0 1 0 5.9 0a2.95 2.95 0 1 0 -5.9 0zM964.92 2178.6a2.95 2.95 0 1 0 5.9 0a2.95 2.95 0 1 0 -5.9 0zM964.92 2186.77a2.95 2.95 0 1 0 5.9 0a2.95 2.95 0 1 0 -5.9 0zM964.92 2192.71a2.95 2.95 0 1 0 5.9 0a2.95 2.95 0 1 0 -5.9 0zM964.92 2215.74a2.95 2.95 0 1 0 5.9 0a2.95 2.95 0 1 0 -5.9 0zM964.92 2225.49a2.95 2.95 0 1 0 5.9 0a2.95 2.95 0 1 0 -5.9 0zM964.92 2231.71a2.95 2.95 0 1 0 5.9 0a2.95 2.95 0 1 0 -5.9 0zM971.86 2060.03a2.95 2.95 0 1 0 5.9 0a2.95 2.95 0 1 0 -5.9 0zM971.86 2065.6a2.95 2.95 0 1 0 5.9 0a2.95 2.95 0 1 0 -5.9 0zM971.86 2079.9a2.95 2.95 0 1 0 5.9 0a2.95 2.95 0 1 0 -5.9 0zM971.86 2085.56a2.95 2.95 0 1 0 5.9 0a2.95 2.95 0 1 0 -5.9 0zM971.86 2101.72a2.95 2.95 0 1 0 5.9 0a2.95 2.95 0 1 0 -5.9 0zM971.86 2107.57a2.95 2.95 0 1 0 5.9 0a2.95 2.95 0 1 0 -5.9 0zM971.86 2121.77a2.95 2.95 0 1 0 5.9 0a2.95 2.95 0 1 0 -5.9 0zM971.86 2131.89a2.95 2.95 0 1 0 5.9 0a2.95 2.95 0 1 0 -5.9 0zM971.86 2142.57a2.95 2.95 0 1 0 5.9 0a2.95 2.95 0 1 0 -5.9 0zM971.86 2160.49a2.95 2.95 0 1 0 5.9 0a2.95 2.95 0 1 0 -5.9 0zM971.86 2168.66a2.95 2.95 0 1 0 5.9 0a2.95 2.95 0 1 0 -5.9 0zM971.86 2176a2.95 2.95 0 1 0 5.9 0a2.95 2.95 0 1 0 -5.9 0zM971.86 2188.81a2.95 2.95 0 1 0 5.9 0a2.95 2.95 0 1 0 -5.9 0zM971.86 2194.38a2.95 2.95 0 1 0 5.9 0a2.95 2.95 0 1 0 -5.9 0zM971.86 2207.1a2.95 2.95 0 1 0 5.9 0a2.95 2.95 0 1 0 -5.9 0zM971.86 2213.88a2.95 2.95 0 1 0 5.9 0a2.95 2.95 0 1 0 -5.9 0zM971.86 2222.7a2.95 2.95 0 1 0 5.9 0a2.95 2.95 0 1 0 -5.9 0zM971.86 2228.09a2.95 2.95 0 1 0 5.9 0a2.95 2.95 0 1 0 -5.9 0zM978.8 2062.07a2.95 2.95 0 1 0 5.9 0a2.95 2.95 0 1 0 -5.9 0zM978.8 2070.43a2.95 2.95 0 1 0 5.9 0a2.95 2.95 0 1 0 -5.9 0zM978.8 2079.71a2.95 2.95 0 1 0 5.9 0a2.95 2.95 0 1 0 -5.9 0zM978.8 2093.92a2.95 2.95 0 1 0 5.9 0a2.95 2.95 0 1 0 -5.9 0zM978.8 2104.32a2.95 2.95 0 1 0 5.9 0a2.95 2.95 0 1 0 -5.9 0zM978.8 2139.88a2.95 2.95 0 1 0 5.9 0a2.95 2.95 0 1 0 -5.9 0zM978.8 2154.27a2.95 2.95 0 1 0 5.9 0a2.95 2.95 0 1 0 -5.9 0zM978.8 2161.42a2.95 2.95 0 1 0 5.9 0a2.95 2.95 0 1 0 -5.9 0zM978.8 2172.28a2.95 2.95 0 1 0 5.9 0a2.95 2.95 0 1 0 -5.9 0zM978.8 2189.28a2.95 2.95 0 1 0 5.9 0a2.95 2.95 0 1 0 -5.9 0zM978.8 2202.46a2.95 2.95 0 1 0 5.9 0a2.95 2.95 0 1 0 -5.9 0zM978.8 2208.77a2.95 2.95 0 1 0 5.9 0a2.95 2.95 0 1 0 -5.9 0zM985.75 2058.82a2.95 2.95 0 1 0 5.9 0a2.95 2.95 0 1 0 -5.9 0zM985.75 2074.79a2.95 2.95 0 1 0 5.9 0a2.95 2.95 0 1 0 -5.9 0zM985.75 2174.88a2.95 2.95 0 1 0 5.9 0a2.95 2.95 0 1 0 -5.9 0zM985.75 2204.32a2.95 2.95 0 1 0 5.9 0a2.95 2.95 0 1 0 -5.9 0zM985.75 2210.35a2.95 2.95 0 1 0 5.9 0a2.95 2.95 0 1 0 -5.9 0z" fill="#a6a6a6"/>
<path d="M1042.92 1914.51a2.95 2.95 0 1 0 5.9 0a2.95 2.95 0 1 0 -5.9 0zM1042.92 1919.96a2.95 2.95 0 1 0 5.9 0a2.95 2.95 0 1 0 -5.9 0zM1042.92 1940.02a2.95 2.95 0 1 0 5.9 0a2.95 2.95 0 1 0 -5.9 0zM1042.92 1946.88a2.95 2.95 0 1 0 5.9 0a2.95 2.95 0 1 0 -5.9 0zM1042.92 1976.96a2.95 2.95 0 1 0 5.9 0a2.95 2.95 0 1 0 -5.9 0zM1042.92 1987.77a2.95 2.95 0 1 0 5.9 0a2.95 2.95 0 1 0 -5.9 0zM1042.92 2002.2a2.95 2.95 0 1 0 5.9 0a2.95 2.95 0 1 0 -5.9 0zM1042.92 2010.47a2.95 2.95 0 1 0 5.9 0a2.95 2.95 0 1 0 -5.9 0zM1042.92 2020.05a2.95 2.95 0 1 0 5.9 0a2.95 2.95 0 1 0 -5.9 0zM1042.92 2026.47a2.95 2.95 0 1 0 5.9 0a2.95 2.95 0 1 0 -5.9 0zM1042.92 2035.44a2.95 2.95 0 1 0 5.9 0a2.95 2.95 0 1 0 -5.9 0zM1042.92 2050.4a2.95 2.95 0 1 0 5.9 0a2.95 2.95 0 1 0 -5.9 0zM1042.92 2056.82a2.95 2.95 0 1 0 5.9 0a2.95 2.95 0 1 0 -5.9 0zM1042.92 2064.47a2.95 2.95 0 1 0 5.9 0a2.95 2.95 0 1 0 -5.9 0zM1034.85 1977.22a2.95 2.95 0 1 0 5.9 0a2.95 2.95 0 1 0 -5.9 0zM1034.85 1997.45a2.95 2.95 0 1 0 5.9 0a2.95 2.95 0 1 0 -5.9 0zM1034.85 2003.78a2.95 2.95 0 1 0 5.9 0a2.95 2.95 0 1 0 -5.9 0zM1034.85 2025.95a2.95 2.95 0 1 0 5.9 0a2.95 2.95 0 1 0 -5.9 0zM1034.85 2031.49a2.95 2.95 0 1 0 5.9 0a2.95 2.95 0 1 0 -5.9 0zM1034.85 2045.82a2.95 2.95 0 1 0 5.9 0a2.95 2.95 0 1 0 -5.9 0zM1034.85 2054.97a2.95 2.95 0 1 0 5.9 0a2.95 2.95 0 1 0 -5.9 0zM1034.85 2061.13a2.95 2.95 0 1 0 5.9 0a2.95 2.95 0 1 0 -5.9 0zM1050.98 1975.02a2.95 2.95 0 1 0 5.9 0a2.95 2.95 0 1 0 -5.9 0zM1050.98 1996.13a2.95 2.95 0 1 0 5.9 0a2.95 2.95 0 1 0 -5.9 0zM1050.98 2004.49a2.95 2.95 0 1 0 5.9 0a2.95 2.95 0 1 0 -5.9 0zM1050.98 2031.05a2.95 2.95 0 1 0 5.9 0a2.95 2.95 0 1 0 -5.9 0zM1050.98 2041.34a2.95 2.95 0 1 0 5.9 0a2.95 2.95 0 1 0 -5.9 0zM1050.98 2055.23a2.95 2.95 0 1 0 5.9 0a2.95 2.95 0 1 0 -5.9 0zM1050.98 2064.03a2.95 2.95 0 1 0 5.9 0a2.95 2.95 0 1 0 -5.9 0zM1059.05 2068.43a2.95 2.95 0 1 0 5.9 0a2.95 2.95 0 1 0 -5.9 0zM1018.77 2070.73a2.95 2.95 0 1 0 5.9 0a2.95 2.95 0 1 0 -5.9 0zM1026.66 2070.73a2.95 2.95 0 1 0 5.9 0a2.95 2.95 0 1 0 -5.9 0zM1034.95 2070.99a2.95 2.95 0 1 0 5.9 0a2.95 2.95 0 1 0 -5.9 0zM1042.92 2070.99a2.95 2.95 0 1 0 5.9 0a2.95 2.95 0 1 0 -5.9 0zM1051.22 2073.81a2.95 2.95 0 1 0 5.9 0a2.95 2.95 0 1 0 -5.9 0zM1059.26 2074.07a2.95 2.95 0 1 0 5.9 0a2.95 2.95 0 1 0 -5.9 0zM1067.48 2074.51a2.95 2.95 0 1 0 5.9 0a2.95 2.95 0 1 0 -5.9 0zM1018.77 2076.89a2.95 2.95 0 1 0 5.9 0a2.95 2.95 0 1 0 -5.9 0zM1034.95 2079.79a2.95 2.95 0 1 0 5.9 0a2.95 2.95 0 1 0 -5.9 0zM1042.92 2078.91a2.95 2.95 0 1 0 5.9 0a2.95 2.95 0 1 0 -5.9 0zM1051.22 2079.17a2.95 2.95 0 1 0 5.9 0a2.95 2.95 0 1 0 -5.9 0zM1042.92 2085.07a2.95 2.95 0 1 0 5.9 0a2.95 2.95 0 1 0 -5.9 0zM1051.22 2087.26a2.95 2.95 0 1 0 5.9 0a2.95 2.95 0 1 0 -5.9 0zM1059.26 2088.32a2.95 2.95 0 1 0 5.9 0a2.95 2.95 0 1 0 -5.9 0zM1042.92 2090.78a2.95 2.95 0 1 0 5.9 0a2.95 2.95 0 1 0 -5.9 0zM1018.77 2098.7a2.95 2.95 0 1 0 5.9 0a2.95 2.95 0 1 0 -5.9 0zM1026.66 2096.68a2.95 2.95 0 1 0 5.9 0a2.95 2.95 0 1 0 -5.9 0zM1034.95 2097.12a2.95 2.95 0 1 0 5.9 0a2.95 2.95 0 1 0 -5.9 0zM1042.92 2096.94a2.95 2.95 0 1 0 5.9 0a2.95 2.95 0 1 0 -5.9 0zM1051.22 2101.07a2.95 2.95 0 1 0 5.9 0a2.95 2.95 0 1 0 -5.9 0zM1059.26 2098.26a2.95 2.95 0 1 0 5.9 0a2.95 2.95 0 1 0 -5.9 0zM1067.48 2096.32a2.95 2.95 0 1 0 5.9 0a2.95 2.95 0 1 0 -5.9 0zM1034.95 2103.1a2.95 2.95 0 1 0 5.9 0a2.95 2.95 0 1 0 -5.9 0zM1026.66 2109.87a2.95 2.95 0 1 0 5.9 0a2.95 2.95 0 1 0 -5.9 0zM1034.95 2108.81a2.95 2.95 0 1 0 5.9 0a2.95 2.95 0 1 0 -5.9 0zM1034.95 2114.53a2.95 2.95 0 1 0 5.9 0a2.95 2.95 0 1 0 -5.9 0zM1042.92 2117.34a2.95 2.95 0 1 0 5.9 0a2.95 2.95 0 1 0 -5.9 0zM1051.22 2113.3a2.95 2.95 0 1 0 5.9 0a2.95 2.95 0 1 0 -5.9 0zM1059.26 2114.71a2.95 2.95 0 1 0 5.9 0a2.95 2.95 0 1 0 -5.9 0zM1030.64 2127.46a2.95 2.95 0 1 0 5.9 0a2.95 2.95 0 1 0 -5.9 0zM1038.77 2127.46a2.95 2.95 0 1 0 5.9 0a2.95 2.95 0 1 0 -5.9 0zM1046.9 2127.72a2.95 2.95 0 1 0 5.9 0a2.95 2.95 0 1 0 -5.9 0zM1055.12 2127.46a2.95 2.95 0 1 0 5.9 0a2.95 2.95 0 1 0 -5.9 0zM1034.95 2135.2a2.95 2.95 0 1 0 5.9 0a2.95 2.95 0 1 0 -5.9 0zM1042.92 2139.77a2.95 2.95 0 1 0 5.9 0a2.95 2.95 0 1 0 -5.9 0zM1034.95 2146.02a2.95 2.95 0 1 0 5.9 0a2.95 2.95 0 1 0 -5.9 0zM1042.92 2147.95a2.95 2.95 0 1 0 5.9 0a2.95 2.95 0 1 0 -5.9 0zM1038.77 2153.23a2.95 2.95 0 1 0 5.9 0a2.95 2.95 0 1 0 -5.9 0zM1046.9 2155.69a2.95 2.95 0 1 0 5.9 0a2.95 2.95 0 1 0 -5.9 0zM1026.66 2166.68a2.95 2.95 0 1 0 5.9 0a2.95 2.95 0 1 0 -5.9 0zM1034.95 2169.94a2.95 2.95 0 1 0 5.9 0a2.95 2.95 0 1 0 -5.9 0zM1042.92 2167.74a2.95 2.95 0 1 0 5.9 0a2.95 2.95 0 1 0 -5.9 0zM1051.22 2166.42a2.95 2.95 0 1 0 5.9 0a2.95 2.95 0 1 0 -5.9 0zM1059.26 2167.56a2.95 2.95 0 1 0 5.9 0a2.95 2.95 0 1 0 -5.9 0zM1042.92 2179.17a2.95 2.95 0 1 0 5.9 0a2.95 2.95 0 1 0 -5.9 0zM1042.92 2190.78a2.95 2.95 0 1 0 5.9 0a2.95 2.95 0 1 0 -5.9 0zM1042.92 2196.06a2.95 2.95 0 1 0 5.9 0a2.95 2.95 0 1 0 -5.9 0zM1051.22 2202.22a2.95 2.95 0 1 0 5.9 0a2.95 2.95 0 1 0 -5.9 0zM1042.92 2205.73a2.95 2.95 0 1 0 5.9 0a2.95 2.95 0 1 0 -5.9 0zM1038.77 2212.77a2.95 2.95 0 1 0 5.9 0a2.95 2.95 0 1 0 -5.9 0zM1046.9 2212.77a2.95 2.95 0 1 0 5.9 0a2.95 2.95 0 1 0 -5.9 0zM1034.95 2224.91a2.95 2.95 0 1 0 5.9 0a2.95 2.95 0 1 0 -5.9 0zM1042.92 2224.73a2.95 2.95 0 1 0 5.9 0a2.95 2.95 0 1 0 -5.9 0zM1051.22 2224.73a2.95 2.95 0 1 0 5.9 0a2.95 2.95 0 1 0 -5.9 0z" fill="#5eb1e3"/>
<path d="M1124.27 1906.71a2.95 2.95 0 1 0 5.9 0a2.95 2.95 0 1 0 -5.9 0zM1124.27 1921.66a2.95 2.95 0 1 0 5.9 0a2.95 2.95 0 1 0 -5.9 0zM1124.27 1947.17a2.95 2.95 0 1 0 5.9 0a2.95 2.95 0 1 0 -5.9 0zM1113.9 1958.6a2.95 2.95 0 1 0 5.9 0a2.95 2.95 0 1 0 -5.9 0zM1120.78 1961.68a2.95 2.95 0 1 0 5.9 0a2.95 2.95 0 1 0 -5.9 0zM1127.84 1963.61a2.95 2.95 0 1 0 5.9 0a2.95 2.95 0 1 0 -5.9 0zM1100.04 1973.99a2.95 2.95 0 1 0 5.9 0a2.95 2.95 0 1 0 -5.9 0zM1106.93 1972.67a2.95 2.95 0 1 0 5.9 0a2.95 2.95 0 1 0 -5.9 0zM1113.9 1973.55a2.95 2.95 0 1 0 5.9 0a2.95 2.95 0 1 0 -5.9 0zM1120.78 1971.53a2.95 2.95 0 1 0 5.9 0a2.95 2.95 0 1 0 -5.9 0zM1134.81 1973.55a2.95 2.95 0 1 0 5.9 0a2.95 2.95 0 1 0 -5.9 0zM1141.69 1972.94a2.95 2.95 0 1 0 5.9 0a2.95 2.95 0 1 0 -5.9 0zM1148.83 1975.58a2.95 2.95 0 1 0 5.9 0a2.95 2.95 0 1 0 -5.9 0zM1120.78 1977.69a2.95 2.95 0 1 0 5.9 0a2.95 2.95 0 1 0 -5.9 0zM1127.84 1977.69a2.95 2.95 0 1 0 5.9 0a2.95 2.95 0 1 0 -5.9 0zM1113.9 1985.6a2.95 2.95 0 1 0 5.9 0a2.95 2.95 0 1 0 -5.9 0zM1120.78 1983.93a2.95 2.95 0 1 0 5.9 0a2.95 2.95 0 1 0 -5.9 0zM1127.84 1984.99a2.95 2.95 0 1 0 5.9 0a2.95 2.95 0 1 0 -5.9 0zM1134.81 1985.25a2.95 2.95 0 1 0 5.9 0a2.95 2.95 0 1 0 -5.9 0zM1113.9 1991.41a2.95 2.95 0 1 0 5.9 0a2.95 2.95 0 1 0 -5.9 0zM1113.9 1996.86a2.95 2.95 0 1 0 5.9 0a2.95 2.95 0 1 0 -5.9 0zM1120.78 1996.68a2.95 2.95 0 1 0 5.9 0a2.95 2.95 0 1 0 -5.9 0zM1127.84 1995.28a2.95 2.95 0 1 0 5.9 0a2.95 2.95 0 1 0 -5.9 0zM1106.93 2001.08a2.95 2.95 0 1 0 5.9 0a2.95 2.95 0 1 0 -5.9 0zM1113.9 2003.46a2.95 2.95 0 1 0 5.9 0a2.95 2.95 0 1 0 -5.9 0zM1120.78 2004.16a2.95 2.95 0 1 0 5.9 0a2.95 2.95 0 1 0 -5.9 0zM1127.84 2006.71a2.95 2.95 0 1 0 5.9 0a2.95 2.95 0 1 0 -5.9 0zM1134.81 2004.51a2.95 2.95 0 1 0 5.9 0a2.95 2.95 0 1 0 -5.9 0zM1141.69 2000.64a2.95 2.95 0 1 0 5.9 0a2.95 2.95 0 1 0 -5.9 0zM1113.9 2009.35a2.95 2.95 0 1 0 5.9 0a2.95 2.95 0 1 0 -5.9 0zM1106.93 2013.57a2.95 2.95 0 1 0 5.9 0a2.95 2.95 0 1 0 -5.9 0zM1120.78 2014.89a2.95 2.95 0 1 0 5.9 0a2.95 2.95 0 1 0 -5.9 0zM1127.84 2017.35a2.95 2.95 0 1 0 5.9 0a2.95 2.95 0 1 0 -5.9 0zM1134.81 2015.51a2.95 2.95 0 1 0 5.9 0a2.95 2.95 0 1 0 -5.9 0zM1141.69 2016.65a2.95 2.95 0 1 0 5.9 0a2.95 2.95 0 1 0 -5.9 0zM1120.78 2021.22a2.95 2.95 0 1 0 5.9 0a2.95 2.95 0 1 0 -5.9 0zM1113.9 2024.56a2.95 2.95 0 1 0 5.9 0a2.95 2.95 0 1 0 -5.9 0zM1127.84 2024.83a2.95 2.95 0 1 0 5.9 0a2.95 2.95 0 1 0 -5.9 0zM1134.81 2026.94a2.95 2.95 0 1 0 5.9 0a2.95 2.95 0 1 0 -5.9 0zM1120.78 2030.02a2.95 2.95 0 1 0 5.9 0a2.95 2.95 0 1 0 -5.9 0zM1127.84 2031.16a2.95 2.95 0 1 0 5.9 0a2.95 2.95 0 1 0 -5.9 0zM1106.93 2038.81a2.95 2.95 0 1 0 5.9 0a2.95 2.95 0 1 0 -5.9 0zM1113.9 2040.57a2.95 2.95 0 1 0 5.9 0a2.95 2.95 0 1 0 -5.9 0zM1120.78 2039.08a2.95 2.95 0 1 0 5.9 0a2.95 2.95 0 1 0 -5.9 0zM1120.78 2044.79a2.95 2.95 0 1 0 5.9 0a2.95 2.95 0 1 0 -5.9 0zM1127.84 2042.86a2.95 2.95 0 1 0 5.9 0a2.95 2.95 0 1 0 -5.9 0zM1134.81 2044.09a2.95 2.95 0 1 0 5.9 0a2.95 2.95 0 1 0 -5.9 0zM1113.9 2050.33a2.95 2.95 0 1 0 5.9 0a2.95 2.95 0 1 0 -5.9 0zM1120.78 2052.27a2.95 2.95 0 1 0 5.9 0a2.95 2.95 0 1 0 -5.9 0zM1106.93 2055.08a2.95 2.95 0 1 0 5.9 0a2.95 2.95 0 1 0 -5.9 0zM1100.04 2057.55a2.95 2.95 0 1 0 5.9 0a2.95 2.95 0 1 0 -5.9 0zM1141.69 2056.05a2.95 2.95 0 1 0 5.9 0a2.95 2.95 0 1 0 -5.9 0zM1148.83 2058.6a2.95 2.95 0 1 0 5.9 0a2.95 2.95 0 1 0 -5.9 0zM1106.93 2060.8a2.95 2.95 0 1 0 5.9 0a2.95 2.95 0 1 0 -5.9 0zM1113.9 2060.18a2.95 2.95 0 1 0 5.9 0a2.95 2.95 0 1 0 -5.9 0zM1134.81 2060.01a2.95 2.95 0 1 0 5.9 0a2.95 2.95 0 1 0 -5.9 0zM1141.69 2061.24a2.95 2.95 0 1 0 5.9 0a2.95 2.95 0 1 0 -5.9 0zM1120.78 2065.2a2.95 2.95 0 1 0 5.9 0a2.95 2.95 0 1 0 -5.9 0zM1134.81 2065.46a2.95 2.95 0 1 0 5.9 0a2.95 2.95 0 1 0 -5.9 0zM1106.93 2070.38a2.95 2.95 0 1 0 5.9 0a2.95 2.95 0 1 0 -5.9 0zM1113.9 2071.87a2.95 2.95 0 1 0 5.9 0a2.95 2.95 0 1 0 -5.9 0zM1120.78 2071.26a2.95 2.95 0 1 0 5.9 0a2.95 2.95 0 1 0 -5.9 0zM1127.84 2070.55a2.95 2.95 0 1 0 5.9 0a2.95 2.95 0 1 0 -5.9 0zM1134.81 2072.49a2.95 2.95 0 1 0 5.9 0a2.95 2.95 0 1 0 -5.9 0zM1141.69 2068.62a2.95 2.95 0 1 0 5.9 0a2.95 2.95 0 1 0 -5.9 0zM1127.84 2076.27a2.95 2.95 0 1 0 5.9 0a2.95 2.95 0 1 0 -5.9 0zM1141.69 2078.47a2.95 2.95 0 1 0 5.9 0a2.95 2.95 0 1 0 -5.9 0zM1113.9 2081.55a2.95 2.95 0 1 0 5.9 0a2.95 2.95 0 1 0 -5.9 0zM1120.78 2083.31a2.95 2.95 0 1 0 5.9 0a2.95 2.95 0 1 0 -5.9 0zM1127.84 2082.43a2.95 2.95 0 1 0 5.9 0a2.95 2.95 0 1 0 -5.9 0zM1134.81 2083.04a2.95 2.95 0 1 0 5.9 0a2.95 2.95 0 1 0 -5.9 0zM1113.9 2087.97a2.95 2.95 0 1 0 5.9 0a2.95 2.95 0 1 0 -5.9 0zM1134.81 2088.14a2.95 2.95 0 1 0 5.9 0a2.95 2.95 0 1 0 -5.9 0zM1120.78 2090.78a2.95 2.95 0 1 0 5.9 0a2.95 2.95 0 1 0 -5.9 0zM1127.84 2092.54a2.95 2.95 0 1 0 5.9 0a2.95 2.95 0 1 0 -5.9 0zM1113.9 2095.88a2.95 2.95 0 1 0 5.9 0a2.95 2.95 0 1 0 -5.9 0zM1134.81 2095.62a2.95 2.95 0 1 0 5.9 0a2.95 2.95 0 1 0 -5.9 0zM1120.78 2097.64a2.95 2.95 0 1 0 5.9 0a2.95 2.95 0 1 0 -5.9 0zM1120.78 2105.29a2.95 2.95 0 1 0 5.9 0a2.95 2.95 0 1 0 -5.9 0zM1127.84 2104.68a2.95 2.95 0 1 0 5.9 0a2.95 2.95 0 1 0 -5.9 0zM1134.81 2104.24a2.95 2.95 0 1 0 5.9 0a2.95 2.95 0 1 0 -5.9 0zM1113.9 2108.37a2.95 2.95 0 1 0 5.9 0a2.95 2.95 0 1 0 -5.9 0zM1106.93 2112.15a2.95 2.95 0 1 0 5.9 0a2.95 2.95 0 1 0 -5.9 0zM1127.84 2111.01a2.95 2.95 0 1 0 5.9 0a2.95 2.95 0 1 0 -5.9 0zM1141.69 2112.15a2.95 2.95 0 1 0 5.9 0a2.95 2.95 0 1 0 -5.9 0zM1134.81 2114.35a2.95 2.95 0 1 0 5.9 0a2.95 2.95 0 1 0 -5.9 0zM1113.9 2116.02a2.95 2.95 0 1 0 5.9 0a2.95 2.95 0 1 0 -5.9 0zM1120.78 2118.05a2.95 2.95 0 1 0 5.9 0a2.95 2.95 0 1 0 -5.9 0zM1127.84 2133.44a2.95 2.95 0 1 0 5.9 0a2.95 2.95 0 1 0 -5.9 0zM1134.81 2132.56a2.95 2.95 0 1 0 5.9 0a2.95 2.95 0 1 0 -5.9 0zM1113.9 2137.13a2.95 2.95 0 1 0 5.9 0a2.95 2.95 0 1 0 -5.9 0zM1141.69 2137.84a2.95 2.95 0 1 0 5.9 0a2.95 2.95 0 1 0 -5.9 0zM1106.93 2140.74a2.95 2.95 0 1 0 5.9 0a2.95 2.95 0 1 0 -5.9 0zM1127.84 2138.89a2.95 2.95 0 1 0 5.9 0a2.95 2.95 0 1 0 -5.9 0zM1134.81 2140.47a2.95 2.95 0 1 0 5.9 0a2.95 2.95 0 1 0 -5.9 0zM1120.78 2142.67a2.95 2.95 0 1 0 5.9 0a2.95 2.95 0 1 0 -5.9 0zM1113.9 2144.43a2.95 2.95 0 1 0 5.9 0a2.95 2.95 0 1 0 -5.9 0zM1127.84 2145.05a2.95 2.95 0 1 0 5.9 0a2.95 2.95 0 1 0 -5.9 0zM1141.69 2143.55a2.95 2.95 0 1 0 5.9 0a2.95 2.95 0 1 0 -5.9 0zM1134.81 2146.37a2.95 2.95 0 1 0 5.9 0a2.95 2.95 0 1 0 -5.9 0zM1120.78 2148.13a2.95 2.95 0 1 0 5.9 0a2.95 2.95 0 1 0 -5.9 0zM1113.9 2158.94a2.95 2.95 0 1 0 5.9 0a2.95 2.95 0 1 0 -5.9 0zM1127.84 2159.82a2.95 2.95 0 1 0 5.9 0a2.95 2.95 0 1 0 -5.9 0zM1134.81 2160.26a2.95 2.95 0 1 0 5.9 0a2.95 2.95 0 1 0 -5.9 0zM1141.69 2157.36a2.95 2.95 0 1 0 5.9 0a2.95 2.95 0 1 0 -5.9 0zM1148.83 2159.21a2.95 2.95 0 1 0 5.9 0a2.95 2.95 0 1 0 -5.9 0zM1106.93 2162.46a2.95 2.95 0 1 0 5.9 0a2.95 2.95 0 1 0 -5.9 0zM1113.9 2164.4a2.95 2.95 0 1 0 5.9 0a2.95 2.95 0 1 0 -5.9 0zM1127.84 2164.93a2.95 2.95 0 1 0 5.9 0a2.95 2.95 0 1 0 -5.9 0zM1141.69 2162.64a2.95 2.95 0 1 0 5.9 0a2.95 2.95 0 1 0 -5.9 0zM1113.9 2175.92a2.95 2.95 0 1 0 5.9 0a2.95 2.95 0 1 0 -5.9 0zM1134.81 2180.05a2.95 2.95 0 1 0 5.9 0a2.95 2.95 0 1 0 -5.9 0zM1127.84 2182.25a2.95 2.95 0 1 0 5.9 0a2.95 2.95 0 1 0 -5.9 0zM1120.78 2184.89a2.95 2.95 0 1 0 5.9 0a2.95 2.95 0 1 0 -5.9 0zM1120.78 2190.61a2.95 2.95 0 1 0 5.9 0a2.95 2.95 0 1 0 -5.9 0zM1127.84 2191.93a2.95 2.95 0 1 0 5.9 0a2.95 2.95 0 1 0 -5.9 0zM1120.78 2196.32a2.95 2.95 0 1 0 5.9 0a2.95 2.95 0 1 0 -5.9 0zM1127.84 2198.08a2.95 2.95 0 1 0 5.9 0a2.95 2.95 0 1 0 -5.9 0zM1120.78 2203.18a2.95 2.95 0 1 0 5.9 0a2.95 2.95 0 1 0 -5.9 0zM1127.84 2206.61a2.95 2.95 0 1 0 5.9 0a2.95 2.95 0 1 0 -5.9 0zM1120.78 2216.55a2.95 2.95 0 1 0 5.9 0a2.95 2.95 0 1 0 -5.9 0zM1127.84 2215.67a2.95 2.95 0 1 0 5.9 0a2.95 2.95 0 1 0 -5.9 0zM1134.81 2216.38a2.95 2.95 0 1 0 5.9 0a2.95 2.95 0 1 0 -5.9 0zM1141.69 2217.61a2.95 2.95 0 1 0 5.9 0a2.95 2.95 0 1 0 -5.9 0zM1100.04 2223.15a2.95 2.95 0 1 0 5.9 0a2.95 2.95 0 1 0 -5.9 0zM1106.93 2222.01a2.95 2.95 0 1 0 5.9 0a2.95 2.95 0 1 0 -5.9 0zM1120.78 2222.45a2.95 2.95 0 1 0 5.9 0a2.95 2.95 0 1 0 -5.9 0zM1127.84 2224.29a2.95 2.95 0 1 0 5.9 0a2.95 2.95 0 1 0 -5.9 0zM1134.81 2225.17a2.95 2.95 0 1 0 5.9 0a2.95 2.95 0 1 0 -5.9 0zM1141.69 2225.96a2.95 2.95 0 1 0 5.9 0a2.95 2.95 0 1 0 -5.9 0zM1148.83 2224.03a2.95 2.95 0 1 0 5.9 0a2.95 2.95 0 1 0 -5.9 0zM1113.9 2226.84a2.95 2.95 0 1 0 5.9 0a2.95 2.95 0 1 0 -5.9 0zM1127.84 2229.31a2.95 2.95 0 1 0 5.9 0a2.95 2.95 0 1 0 -5.9 0zM1120.78 2232.56a2.95 2.95 0 1 0 5.9 0a2.95 2.95 0 1 0 -5.9 0z" fill="#dfb886"/>
<path d="M1205.79 1832.1a2.95 2.95 0 1 0 5.9 0a2.95 2.95 0 1 0 -5.9 0zM1205.79 1844.3a2.95 2.95 0 1 0 5.9 0a2.95 2.95 0 1 0 -5.9 0z" fill="#70e0a8"/>
<path d="M1208.92 1872.16h0.41M1208.82 1875.16h1.24M1208.92 1878.16h0.98M1208.68 1881.16h0.01M1208 1884.16h1.95M1207.24 1887.16h1.75M1208.33 1890.16h0.01M1208.84 1893.16h0.03M1208.28 1896.16h0.01M1208.71 1899.16h1.39M1205.6 1902.16h5.19M1206.76 1905.16h2.79M1207.41 1908.16h1.45M1209.33 1911.16h0.01M1208.28 1914.16h0.01M1207.85 1917.16h2.96M1209.11 1920.16h0.72M1208.06 1923.16h1.92M1209.28 1926.16h0.31M1207.69 1929.16h3.59M1205.6 1932.16h5.63M1206.13 1935.16h4.14M1205.97 1938.16h4.14M1205.94 1941.16h5.92M1207.06 1944.16h3.91M1206.41 1947.16h4.04M1206.05 1950.16h5.3M1206.93 1953.16h3.55M1204.99 1956.16h6.08M1204.13 1959.16h7.68M1205.85 1962.16h6.88M1206.07 1965.16h6.26M1202.92 1968.16h11.89M1202.2 1971.16h11.61M1202.77 1974.16h13.38M1201.56 1977.16h15.18M1198.96 1980.16h20.96M1198.53 1983.16h19.95M1197.96 1986.16h22.44M1198.2 1989.16h21.86M1196.91 1992.16h24.79M1198.22 1995.16h22.45M1196.32 1998.16h24.33M1194.01 2001.16h30.79M1192.92 2004.16h32.98M1190.71 2007.16h35.46M1192.02 2010.16h32.41M1193.52 2013.16h29.31M1192.71 2016.16h33.64M1191.64 2019.16h32.74M1189.62 2022.16h38.35M1189.78 2025.16h37.06M1189.82 2028.16h38.87M1189.05 2031.16h39.11M1190.35 2034.16h38.1M1189.27 2037.16h38.91M1186.28 2040.16h43.72M1187.7 2043.16h43.52M1188.86 2046.16h40.67M1190.73 2049.16h35.8M1190.16 2052.16h38.26M1187.33 2055.16h42.66M1185.13 2058.16h48.34M1185.68 2061.16h45.96M1188.42 2064.16h41.36M1188.65 2067.16h39.5M1189.41 2070.16h37.52M1191.62 2073.16h35.8M1190.33 2076.16h37.21M1191.67 2079.16h33.62M1193.24 2082.16h30.27M1192.75 2085.16h33.16M1193.65 2088.16h31.09M1192.53 2091.16h33.03M1192.93 2094.16h32.45M1193.58 2097.16h30.97M1193.43 2100.16h30.57M1192.58 2103.16h32.92M1194.13 2106.16h30.63M1194.31 2109.16h29.11M1197.38 2112.16h22.87M1197.99 2115.16h22.04M1198.29 2118.16h21.9M1198.32 2121.16h21.78M1199.3 2124.16h19.34M1199.17 2127.16h20.19M1200.63 2130.16h17.3M1199.65 2133.16h18.77M1200.34 2136.16h18.25M1201.15 2139.16h15.26M1202.67 2142.16h13.22M1200.42 2145.16h16.57M1201.64 2148.16h14.9M1201.02 2151.16h14.38M1201.91 2154.16h13.91M1202.15 2157.16h12.91M1202.82 2160.16h12.71M1202.7 2163.16h12.78M1202.74 2166.16h10.9M1202.16 2169.16h13.63M1205.55 2172.16h6.97M1204.7 2175.16h6.6M1204.25 2178.16h8.1M1203.97 2181.16h8.36M1204.05 2184.16h8.36M1205.32 2187.16h5.34M1206.16 2190.16h4.78M1205.2 2193.16h7.37M1205.65 2196.16h7.46M1204.31 2199.16h8.54M1202.51 2202.16h12.17M1201.24 2205.16h16.05M1203.24 2208.16h9.5M1206.19 2211.16h3.79M1205.66 2214.16h5.63M1205.48 2217.16h7.97M1203.73 2220.16h9.74M1204.02 2223.16h9.88M1204.29 2226.16h7.74M1204.95 2229.16h7.77M1205.26 2232.16h8.46" fill="none" stroke="#70e0a8" stroke-width="5.9" stroke-linecap="round"/>
<line x1="937.51" y1="2110.7" x2="991.66" y2="2110.7" stroke="#000" stroke-width="3.3"/>
<line x1="1019.02" y1="2086.4" x2="1073.08" y2="2086.4" stroke="#000" stroke-width="3.3"/>
<line x1="1100.43" y1="2079.8" x2="1154.4" y2="2079.8" stroke="#000" stroke-width="3.3"/>
<line x1="1181.75" y1="2061.1" x2="1235.81" y2="2061.1" stroke="#000" stroke-width="3.3"/>
<path d="M910.91 1803.8V2233.3M900.34 2233.3H1263.26" fill="none" stroke="#000" stroke-width="1.8"/>
<text x="896.38" y="2240.5" font-family="'Liberation Sans', sans-serif" font-size="20.5" text-anchor="end">0</text>
<line x1="900.34" y1="2126.15" x2="910.91" y2="2126.15" stroke="#000" stroke-width="1.8"/>
<text x="896.38" y="2133.35" font-family="'Liberation Sans', sans-serif" font-size="20.5" text-anchor="end">2</text>
<line x1="900.34" y1="2019" x2="910.91" y2="2019" stroke="#000" stroke-width="1.8"/>
<text x="896.38" y="2026.2" font-family="'Liberation Sans', sans-serif" font-size="20.5" text-anchor="end">4</text>
<line x1="900.34" y1="1911.85" x2="910.91" y2="1911.85" stroke="#000" stroke-width="1.8"/>
<text x="896.38" y="1919.05" font-family="'Liberation Sans', sans-serif" font-size="20.5" text-anchor="end">6</text>
<line x1="900.34" y1="1804.7" x2="910.91" y2="1804.7" stroke="#000" stroke-width="1.8"/>
<text x="896.38" y="1811.9" font-family="'Liberation Sans', sans-serif" font-size="20.5" text-anchor="end">8</text>
<line x1="964.11" y1="2233.3" x2="964.11" y2="2244" stroke="#000" stroke-width="1.8"/>
<text transform="translate(970.81 2267.7) rotate(-45)" font-family="'Liberation Sans', sans-serif" font-size="27.3" text-anchor="end">Unclassified</text>
<line x1="1045.72" y1="2233.3" x2="1045.72" y2="2244" stroke="#000" stroke-width="1.8"/>
<text transform="translate(1052.42 2267.7) rotate(-45)" font-family="'Liberation Sans', sans-serif" font-size="27.3" text-anchor="end">NSCLC-like</text>
<line x1="1127.42" y1="2233.3" x2="1127.42" y2="2244" stroke="#000" stroke-width="1.8"/>
<text transform="translate(1134.12 2267.7) rotate(-45)" font-family="'Liberation Sans', sans-serif" font-size="27.3" text-anchor="end">SCLC-like</text>
<line x1="1208.64" y1="2233.3" x2="1208.64" y2="2244" stroke="#000" stroke-width="1.8"/>
<text transform="translate(1215.34 2267.7) rotate(-45)" font-family="'Liberation Sans', sans-serif" font-size="27.3" text-anchor="end">SCLC</text>
<text transform="translate(840.62 2019.2) rotate(-90)" font-family="'Liberation Sans', sans-serif" font-size="24.8" text-anchor="middle">DLL3 Expression</text>
<text transform="translate(871.47 2019.2) rotate(-90)" font-family="'Liberation Sans', sans-serif" font-size="24.8" text-anchor="middle">log2(TPM+1)</text>
<path d="M964.11 1751.5V1736H1208.64V1751.5" fill="none" stroke="#000" stroke-width="1.8"/>
<path d="M1045.34 1800.3V1784.6H1208.64V1800.3" fill="none" stroke="#000" stroke-width="1.8"/>
<path d="M964.11 1851.6V1833.8H1127.42V1851.6" fill="none" stroke="#000" stroke-width="1.8"/>
<text x="1086.66" y="1735.6" font-family="'Liberation Sans', sans-serif" font-size="34.5" text-anchor="middle" font-weight="bold">****</text>
<text x="1127.13" y="1784.5" font-family="'Liberation Sans', sans-serif" font-size="34.5" text-anchor="middle" font-weight="bold">*</text>
<text x="1045.91" y="1833.4" font-family="'Liberation Sans', sans-serif" font-size="34.5" text-anchor="middle" font-weight="bold">*</text>
</g>
</g>
</svg>
</body></html>
